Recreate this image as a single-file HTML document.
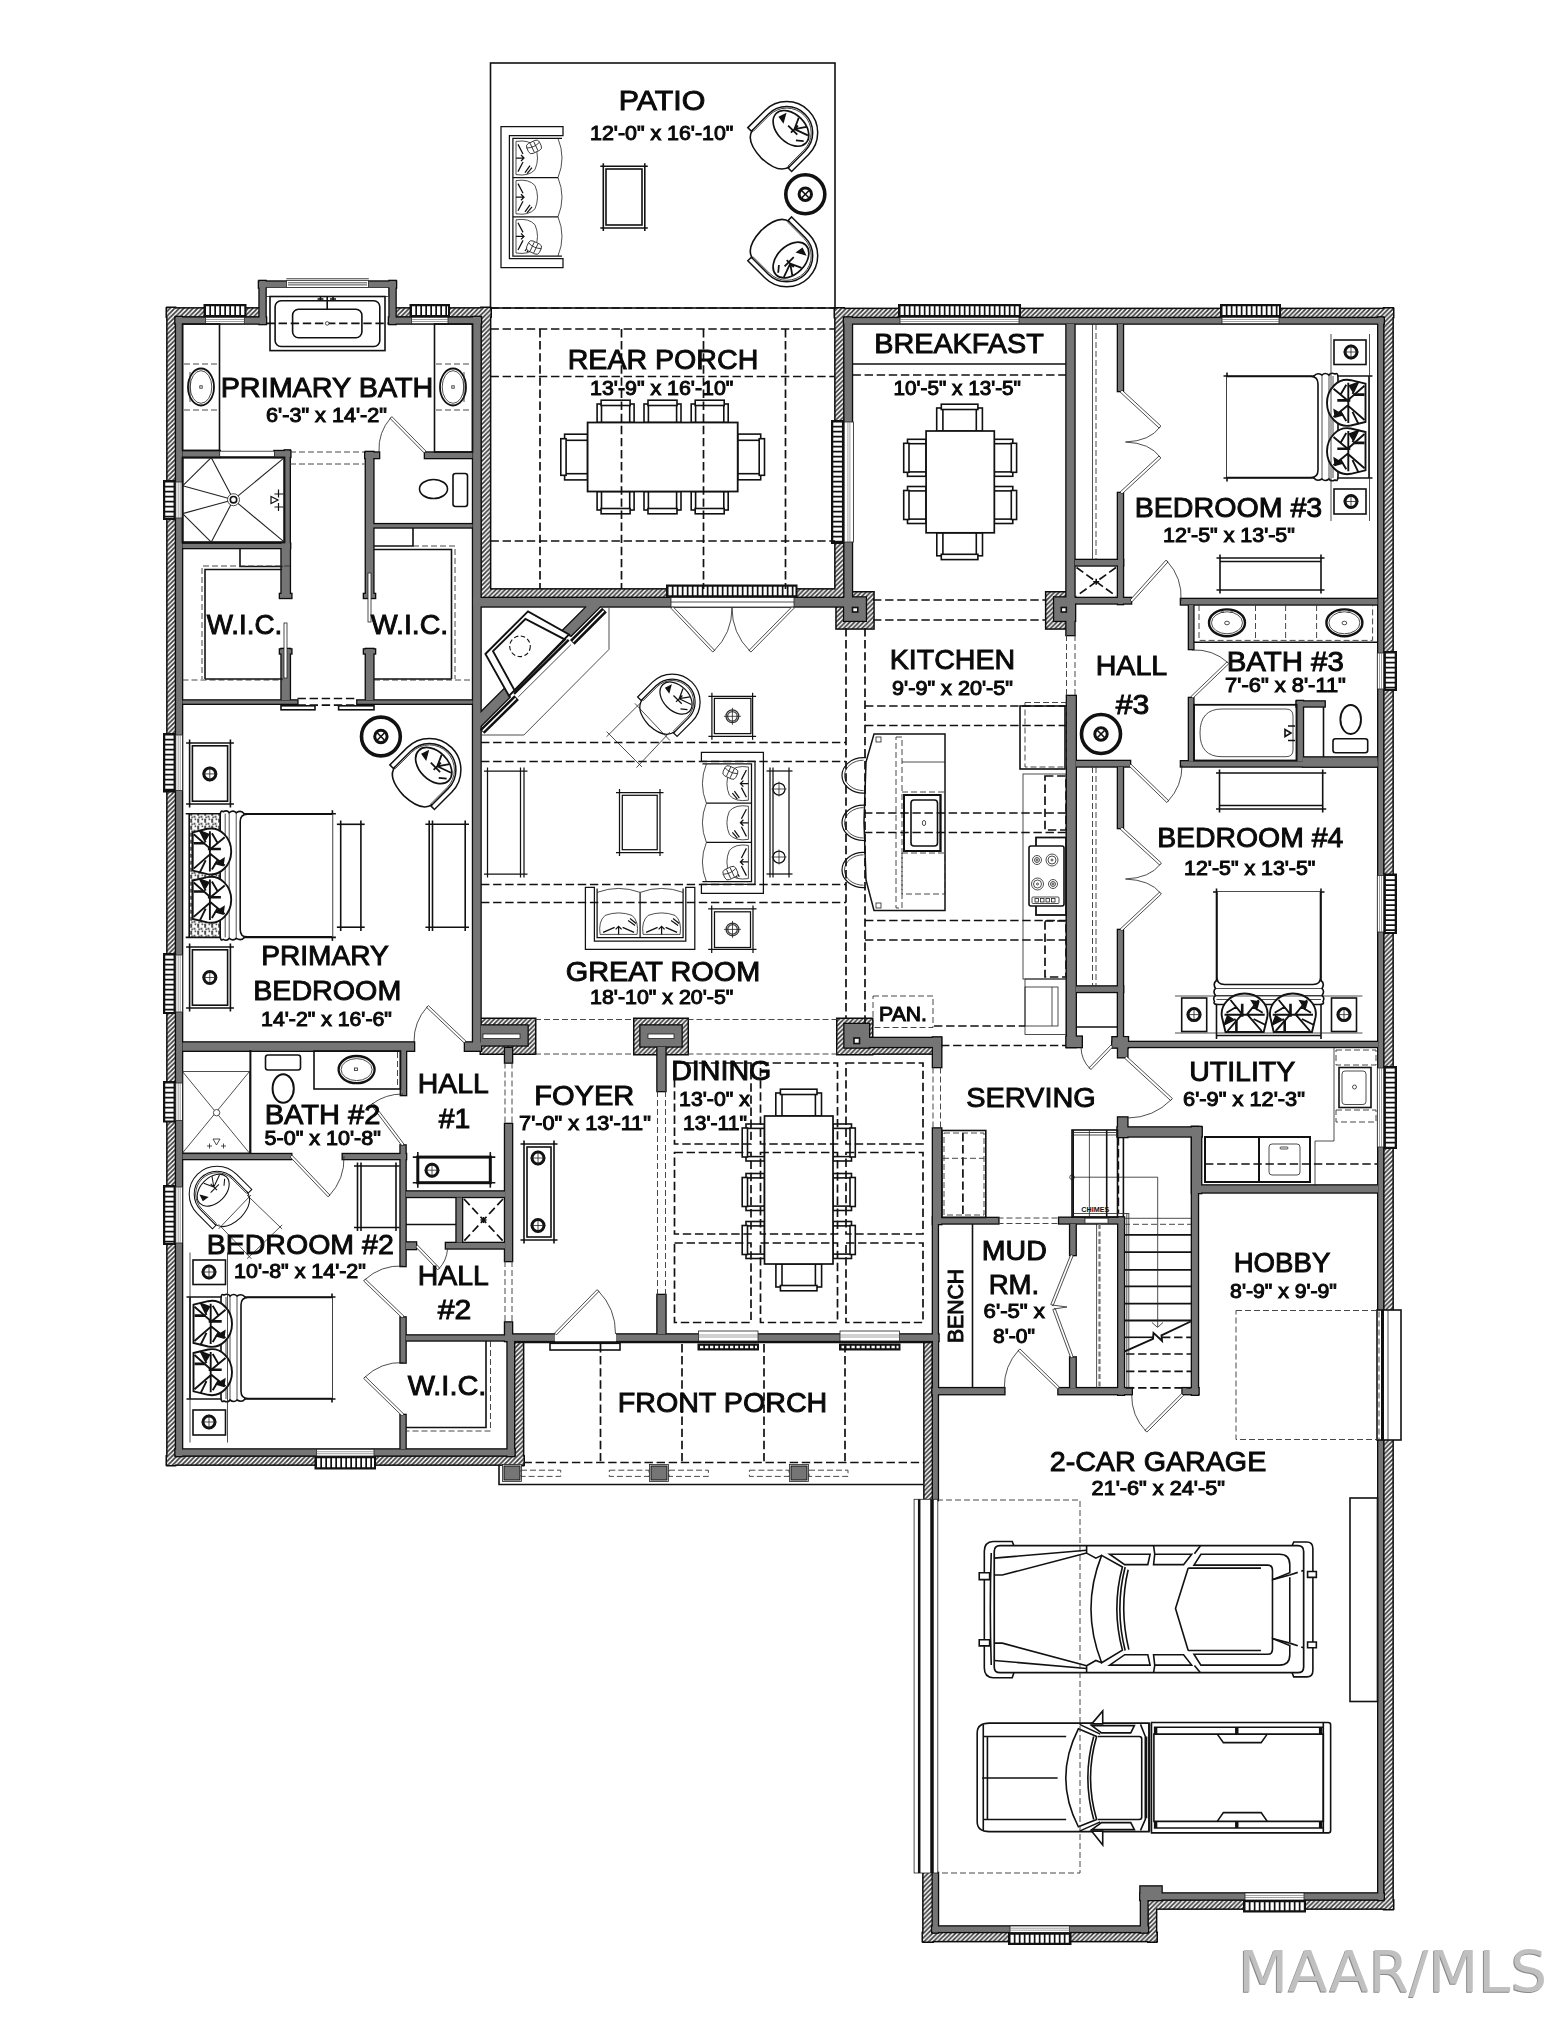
<!DOCTYPE html>
<html lang="en"><head><meta charset="utf-8"><title>Floor Plan</title>
<style>
html,body{margin:0;padding:0;background:#fff;}
body{width:1559px;height:2017px;overflow:hidden;}
svg{display:block;}
text{font-family:"Liberation Sans",sans-serif;fill:#111;}
.rm{font-size:28px;stroke:#0a0a0a;stroke-width:.95px;fill:#0a0a0a;}
.dm{font-size:20px;stroke:#0a0a0a;stroke-width:1px;fill:#0a0a0a;}
.k{stroke:#111;fill:none;stroke-width:1.6;}
.kw{stroke:#111;fill:#fff;stroke-width:1.6;}
.t{stroke:#222;fill:none;stroke-width:.8;}
.tw{stroke:#222;fill:#fff;stroke-width:.8;}
.b{stroke:#111;fill:none;stroke-width:2;}
.d{stroke:#111;fill:none;stroke-width:1.7;stroke-dasharray:8.4 3.7;}
.dt{stroke:#333;fill:none;stroke-width:.9;stroke-dasharray:6 3;}
.thin .k,.thin .kw{stroke-width:1.05 !important;}
.med .k,.med .kw{stroke-width:1.25 !important;}
.g{fill:#757575;}
.gs{fill:none;stroke:#0c0c0c;stroke-width:2.6;stroke-linejoin:miter;}
.h{fill:url(#hp);}
.hs{fill:none;stroke:#0c0c0c;stroke-width:3;}
</style></head><body>
<svg width="1559" height="2017" viewBox="0 0 1559 2017">
<defs>
<pattern id="hp" width="4.6" height="4.6" patternUnits="userSpaceOnUse">
<rect width="4.6" height="4.6" fill="#fff"/>
<path d="M-1,1 L1,-1 M-1,5.6 L5.6,-1 M3.6,5.6 L5.6,3.6" stroke="#3c3c3c" stroke-width="1.75"/>
</pattern>
</defs>
<rect width="1559" height="2017" fill="#fff"/>
<g id="walls">
<g class="hs"><rect x="167.6" y="308" width="7.3" height="1157"/><rect x="167" y="308.6" width="92" height="7.8"/><rect x="396" y="308.6" width="94.5" height="7.8"/><rect x="481.6" y="308" width="8.3" height="289.5"/><rect x="481" y="589.6" width="363" height="7.3"/><rect x="835.6" y="308.5" width="7.8" height="289"/><rect x="835" y="309.1" width="558" height="7.8"/><rect x="1384.3" y="308.5" width="8.1" height="1600.5"/><rect x="167" y="1456.6" width="356.5" height="7.8"/><rect x="515.1" y="1343" width="7.8" height="122"/><rect x="924.6" y="1343" width="7.3" height="157"/><rect x="923.6" y="1873" width="8.8" height="68.5"/><rect x="923" y="1933.1" width="233.5" height="7.8"/><rect x="1148.6" y="1900" width="7.3" height="41.5"/><rect x="1148" y="1900.6" width="245" height="7.8"/><rect x="481" y="1019" width="54" height="34.5"/><rect x="634.5" y="1019" width="53" height="35"/><rect x="837.5" y="1019" width="34.5" height="35"/><rect x="837.5" y="1047.6" width="95" height="5.8"/><rect x="836.7" y="592.5" width="36.6" height="35.8"/><rect x="1046.4" y="592.5" width="19.7" height="35.8"/></g>
<g class="h"><rect x="167.6" y="308" width="7.3" height="1157"/><rect x="167" y="308.6" width="92" height="7.8"/><rect x="396" y="308.6" width="94.5" height="7.8"/><rect x="481.6" y="308" width="8.3" height="289.5"/><rect x="481" y="589.6" width="363" height="7.3"/><rect x="835.6" y="308.5" width="7.8" height="289"/><rect x="835" y="309.1" width="558" height="7.8"/><rect x="1384.3" y="308.5" width="8.1" height="1600.5"/><rect x="167" y="1456.6" width="356.5" height="7.8"/><rect x="515.1" y="1343" width="7.8" height="122"/><rect x="924.6" y="1343" width="7.3" height="157"/><rect x="923.6" y="1873" width="8.8" height="68.5"/><rect x="923" y="1933.1" width="233.5" height="7.8"/><rect x="1148.6" y="1900" width="7.3" height="41.5"/><rect x="1148" y="1900.6" width="245" height="7.8"/><rect x="481" y="1019" width="54" height="34.5"/><rect x="634.5" y="1019" width="53" height="35"/><rect x="837.5" y="1019" width="34.5" height="35"/><rect x="837.5" y="1047.6" width="95" height="5.8"/><rect x="836.7" y="592.5" width="36.6" height="35.8"/><rect x="1046.4" y="592.5" width="19.7" height="35.8"/></g>
<g class="gs"><rect x="176.1" y="317" width="5.9" height="1139"/><rect x="175.5" y="317.6" width="90.5" height="5.9"/><rect x="259.6" y="281" width="5.9" height="43"/><rect x="259" y="281.6" width="137" height="5.9"/><rect x="389.6" y="281" width="5.9" height="43"/><rect x="389" y="317.6" width="92" height="5.9"/><rect x="473.1" y="317" width="7.4" height="733"/><rect x="473.3" y="598" width="379.2" height="8.4"/><rect x="844.5" y="317.5" width="7.4" height="289.5"/><rect x="844" y="318.1" width="539.7" height="5.4"/><rect x="1378.3" y="317.5" width="4.8" height="1582.5"/><rect x="175.5" y="1449.5" width="339" height="5.9"/><rect x="507.6" y="1341" width="6.4" height="115"/><rect x="507" y="1334.5" width="431.4" height="6.4"/><rect x="933" y="1341" width="4.8" height="159"/><rect x="932.8" y="1873" width="5.1" height="59.5"/><rect x="932.2" y="1926.5" width="215.8" height="5.4"/><rect x="1141" y="1893" width="6.4" height="39.5"/><rect x="1140.5" y="1893.5" width="243.2" height="5.9"/><rect x="1140.5" y="1886.5" width="21" height="13.5"/><rect x="182.5" y="451.1" width="37.2" height="5.7"/><rect x="284.9" y="450.5" width="4.8" height="98.5"/><rect x="274.5" y="451.1" width="15.8" height="5.7"/><rect x="281.6" y="543.2" width="8.2" height="53.8"/><rect x="280" y="594" width="11.3" height="3.9"/><rect x="281.6" y="649" width="8.2" height="51"/><rect x="280" y="649.5" width="11.3" height="3.9"/><rect x="182.5" y="543.8" width="107.5" height="4.2"/><rect x="365.9" y="452" width="7.4" height="145"/><rect x="364" y="594" width="11" height="3.9"/><rect x="365.9" y="649" width="7.4" height="51"/><rect x="364" y="649.5" width="11" height="3.9"/><rect x="365.3" y="452.6" width="13.7" height="5.4"/><rect x="425" y="452.6" width="47.5" height="5.4"/><rect x="371" y="524.2" width="101.5" height="3.2"/><rect x="182.5" y="700.5" width="114.8" height="3.2"/><rect x="357.4" y="700.5" width="115.1" height="3.2"/><rect x="182.5" y="1042.5" width="231.5" height="8.2"/><rect x="465" y="1042.5" width="16" height="8.2"/><rect x="400.9" y="1050" width="5.1" height="45"/><rect x="400.6" y="1145.5" width="4.9" height="120.5"/><rect x="400.6" y="1317.5" width="4.9" height="45"/><rect x="400.6" y="1415" width="4.9" height="34"/><rect x="182.5" y="1154.1" width="108.7" height="4.9"/><rect x="342.8" y="1154.1" width="63.2" height="4.9"/><rect x="406" y="1191.5" width="99" height="5.4"/><rect x="456.6" y="1197.5" width="5.4" height="45"/><rect x="406" y="1242.5" width="10" height="6.5"/><rect x="446" y="1243" width="59" height="5.4"/><rect x="505.1" y="1048" width="6.9" height="14.5"/><rect x="505.1" y="1124" width="6.9" height="137"/><rect x="505.1" y="1322.5" width="6.9" height="18.5"/><rect x="406" y="1335.5" width="106" height="4.9"/><rect x="481" y="1025.5" width="46.5" height="19.9"/><rect x="640.5" y="1025.5" width="41" height="20.9"/><rect x="657.5" y="1047" width="7.9" height="44"/><rect x="657.5" y="1295" width="7.9" height="39"/><rect x="844.5" y="1024" width="24.5" height="23.5"/><rect x="862" y="1038" width="79" height="8.9"/><rect x="933" y="1037.5" width="8.2" height="29.5"/><rect x="933" y="1128.5" width="8.2" height="95.5"/><rect x="933" y="1217.5" width="4.8" height="177.2"/><rect x="844.2" y="597.5" width="21.6" height="23.3"/><rect x="1054.2" y="597.5" width="20.8" height="23.3"/><rect x="1066.5" y="324" width="7.9" height="311"/><rect x="1067" y="696" width="8.7" height="351"/><rect x="1066.5" y="1036.7" width="15.2" height="10.3"/><rect x="1118" y="324" width="4.9" height="67"/><rect x="1118" y="493" width="4.9" height="111"/><rect x="1075" y="560" width="48" height="5.4"/><rect x="1075" y="598" width="56" height="5.4"/><rect x="1181" y="599" width="196.5" height="5.4"/><rect x="1189" y="605" width="4.3" height="44"/><rect x="1189" y="698" width="4.3" height="63"/><rect x="1181" y="761.3" width="196.5" height="5.1"/><rect x="1303" y="757.5" width="74.5" height="8.9"/><rect x="1076" y="761" width="54" height="5.4"/><rect x="1297.1" y="701" width="5.8" height="60"/><rect x="1296.6" y="701.5" width="28" height="4.9"/><rect x="1118" y="767" width="4.9" height="61"/><rect x="1118" y="930" width="4.9" height="117"/><rect x="1076" y="986.5" width="47" height="5.4"/><rect x="1112.5" y="1042" width="265.5" height="4.9"/><rect x="1112.5" y="1037.3" width="15.4" height="10.2"/><rect x="1118.1" y="1037.3" width="9.2" height="19.9"/><rect x="938" y="1218" width="60.3" height="5.4"/><rect x="1059.2" y="1217.8" width="62.8" height="5.6"/><rect x="932.5" y="1388.2" width="71.8" height="5.9"/><rect x="1058.5" y="1388.2" width="73.2" height="5.9"/><rect x="1182.6" y="1388.2" width="15.9" height="5.9"/><rect x="1070.2" y="1224" width="5.4" height="31"/><rect x="1070.2" y="1357.5" width="5.4" height="30.5"/><rect x="1118.1" y="1117.5" width="9.2" height="19.5"/><rect x="1118.3" y="1217.5" width="5.6" height="177.2"/><rect x="1117.6" y="1127.5" width="84" height="8.9"/><rect x="1192" y="1127" width="9.1" height="66"/><rect x="1192" y="1127" width="5.9" height="267.7"/><rect x="1196" y="1185.5" width="182" height="6.9"/></g>
<polygon points="479,714.5 504.9,688.6 509.5,697 479,727.5" class="gs"/><polygon points="562.6,630.9 586.2,607.3 588,603 602,603 599.2,607.3 570.9,635.6" class="gs"/>
<g class="g"><rect x="176.1" y="317" width="5.9" height="1139"/><rect x="175.5" y="317.6" width="90.5" height="5.9"/><rect x="259.6" y="281" width="5.9" height="43"/><rect x="259" y="281.6" width="137" height="5.9"/><rect x="389.6" y="281" width="5.9" height="43"/><rect x="389" y="317.6" width="92" height="5.9"/><rect x="473.1" y="317" width="7.4" height="733"/><rect x="473.3" y="598" width="379.2" height="8.4"/><rect x="844.5" y="317.5" width="7.4" height="289.5"/><rect x="844" y="318.1" width="539.7" height="5.4"/><rect x="1378.3" y="317.5" width="4.8" height="1582.5"/><rect x="175.5" y="1449.5" width="339" height="5.9"/><rect x="507.6" y="1341" width="6.4" height="115"/><rect x="507" y="1334.5" width="431.4" height="6.4"/><rect x="933" y="1341" width="4.8" height="159"/><rect x="932.8" y="1873" width="5.1" height="59.5"/><rect x="932.2" y="1926.5" width="215.8" height="5.4"/><rect x="1141" y="1893" width="6.4" height="39.5"/><rect x="1140.5" y="1893.5" width="243.2" height="5.9"/><rect x="1140.5" y="1886.5" width="21" height="13.5"/><rect x="182.5" y="451.1" width="37.2" height="5.7"/><rect x="284.9" y="450.5" width="4.8" height="98.5"/><rect x="274.5" y="451.1" width="15.8" height="5.7"/><rect x="281.6" y="543.2" width="8.2" height="53.8"/><rect x="280" y="594" width="11.3" height="3.9"/><rect x="281.6" y="649" width="8.2" height="51"/><rect x="280" y="649.5" width="11.3" height="3.9"/><rect x="182.5" y="543.8" width="107.5" height="4.2"/><rect x="365.9" y="452" width="7.4" height="145"/><rect x="364" y="594" width="11" height="3.9"/><rect x="365.9" y="649" width="7.4" height="51"/><rect x="364" y="649.5" width="11" height="3.9"/><rect x="365.3" y="452.6" width="13.7" height="5.4"/><rect x="425" y="452.6" width="47.5" height="5.4"/><rect x="371" y="524.2" width="101.5" height="3.2"/><rect x="182.5" y="700.5" width="114.8" height="3.2"/><rect x="357.4" y="700.5" width="115.1" height="3.2"/><rect x="182.5" y="1042.5" width="231.5" height="8.2"/><rect x="465" y="1042.5" width="16" height="8.2"/><rect x="400.9" y="1050" width="5.1" height="45"/><rect x="400.6" y="1145.5" width="4.9" height="120.5"/><rect x="400.6" y="1317.5" width="4.9" height="45"/><rect x="400.6" y="1415" width="4.9" height="34"/><rect x="182.5" y="1154.1" width="108.7" height="4.9"/><rect x="342.8" y="1154.1" width="63.2" height="4.9"/><rect x="406" y="1191.5" width="99" height="5.4"/><rect x="456.6" y="1197.5" width="5.4" height="45"/><rect x="406" y="1242.5" width="10" height="6.5"/><rect x="446" y="1243" width="59" height="5.4"/><rect x="505.1" y="1048" width="6.9" height="14.5"/><rect x="505.1" y="1124" width="6.9" height="137"/><rect x="505.1" y="1322.5" width="6.9" height="18.5"/><rect x="406" y="1335.5" width="106" height="4.9"/><rect x="481" y="1025.5" width="46.5" height="19.9"/><rect x="640.5" y="1025.5" width="41" height="20.9"/><rect x="657.5" y="1047" width="7.9" height="44"/><rect x="657.5" y="1295" width="7.9" height="39"/><rect x="844.5" y="1024" width="24.5" height="23.5"/><rect x="862" y="1038" width="79" height="8.9"/><rect x="933" y="1037.5" width="8.2" height="29.5"/><rect x="933" y="1128.5" width="8.2" height="95.5"/><rect x="933" y="1217.5" width="4.8" height="177.2"/><rect x="844.2" y="597.5" width="21.6" height="23.3"/><rect x="1054.2" y="597.5" width="20.8" height="23.3"/><rect x="1066.5" y="324" width="7.9" height="311"/><rect x="1067" y="696" width="8.7" height="351"/><rect x="1066.5" y="1036.7" width="15.2" height="10.3"/><rect x="1118" y="324" width="4.9" height="67"/><rect x="1118" y="493" width="4.9" height="111"/><rect x="1075" y="560" width="48" height="5.4"/><rect x="1075" y="598" width="56" height="5.4"/><rect x="1181" y="599" width="196.5" height="5.4"/><rect x="1189" y="605" width="4.3" height="44"/><rect x="1189" y="698" width="4.3" height="63"/><rect x="1181" y="761.3" width="196.5" height="5.1"/><rect x="1303" y="757.5" width="74.5" height="8.9"/><rect x="1076" y="761" width="54" height="5.4"/><rect x="1297.1" y="701" width="5.8" height="60"/><rect x="1296.6" y="701.5" width="28" height="4.9"/><rect x="1118" y="767" width="4.9" height="61"/><rect x="1118" y="930" width="4.9" height="117"/><rect x="1076" y="986.5" width="47" height="5.4"/><rect x="1112.5" y="1042" width="265.5" height="4.9"/><rect x="1112.5" y="1037.3" width="15.4" height="10.2"/><rect x="1118.1" y="1037.3" width="9.2" height="19.9"/><rect x="938" y="1218" width="60.3" height="5.4"/><rect x="1059.2" y="1217.8" width="62.8" height="5.6"/><rect x="932.5" y="1388.2" width="71.8" height="5.9"/><rect x="1058.5" y="1388.2" width="73.2" height="5.9"/><rect x="1182.6" y="1388.2" width="15.9" height="5.9"/><rect x="1070.2" y="1224" width="5.4" height="31"/><rect x="1070.2" y="1357.5" width="5.4" height="30.5"/><rect x="1118.1" y="1117.5" width="9.2" height="19.5"/><rect x="1118.3" y="1217.5" width="5.6" height="177.2"/><rect x="1117.6" y="1127.5" width="84" height="8.9"/><rect x="1192" y="1127" width="9.1" height="66"/><rect x="1192" y="1127" width="5.9" height="267.7"/><rect x="1196" y="1185.5" width="182" height="6.9"/><polygon points="479,714.5 504.9,688.6 509.5,697 479,727.5" class="None"/><polygon points="562.6,630.9 586.2,607.3 588,603 602,603 599.2,607.3 570.9,635.6" class="None"/></g>
<rect x="483" y="1034" width="37" height="4.5" class="tw"/>
<rect x="648" y="1034" width="26" height="4.5" class="tw"/>
<rect x="854" y="1038" width="5.5" height="5.5" class="kw"/>
<rect x="852.5" y="607.5" width="5.3" height="4.5" class="kw"/>
<rect x="1061.3" y="607.5" width="5" height="4.5" class="kw"/>
<line x1="514.5" y1="1342.3" x2="932.5" y2="1342.3" class="b"/>
</g>
<g id="windows">
<rect x="203.5" y="304" width="43" height="13.3" fill="#111"/><line x1="206" y1="310.6" x2="244.5" y2="310.6" stroke="#fff" stroke-width="8.8" stroke-dasharray="3.3 1.7"/>
<rect x="205.5" y="317.3" width="39" height="6.4" class="tw"/><line x1="205.5" y1="319.5" x2="244.5" y2="319.5" class="t" style="stroke-width:.55;stroke:#555"/><line x1="205.5" y1="321.5" x2="244.5" y2="321.5" class="t" style="stroke-width:.55;stroke:#555"/>
<rect x="409.5" y="304" width="40.5" height="13.3" fill="#111"/><line x1="412" y1="310.6" x2="448" y2="310.6" stroke="#fff" stroke-width="8.8" stroke-dasharray="3.3 1.7"/>
<rect x="411.5" y="317.3" width="36.5" height="6.4" class="tw"/><line x1="411.5" y1="319.5" x2="448" y2="319.5" class="t" style="stroke-width:.55;stroke:#555"/><line x1="411.5" y1="321.5" x2="448" y2="321.5" class="t" style="stroke-width:.55;stroke:#555"/>
<rect x="898" y="304" width="123" height="13.3" fill="#111"/><line x1="900.5" y1="310.6" x2="1019" y2="310.6" stroke="#fff" stroke-width="8.8" stroke-dasharray="3.3 1.7"/>
<rect x="900" y="317.3" width="119" height="6.4" class="tw"/><line x1="900" y1="319.5" x2="1019" y2="319.5" class="t" style="stroke-width:.55;stroke:#555"/><line x1="900" y1="321.5" x2="1019" y2="321.5" class="t" style="stroke-width:.55;stroke:#555"/>
<rect x="1220" y="304" width="61" height="13.3" fill="#111"/><line x1="1222.5" y1="310.6" x2="1279" y2="310.6" stroke="#fff" stroke-width="8.8" stroke-dasharray="3.3 1.7"/>
<rect x="1222" y="317.3" width="57" height="6.4" class="tw"/><line x1="1222" y1="319.5" x2="1279" y2="319.5" class="t" style="stroke-width:.55;stroke:#555"/><line x1="1222" y1="321.5" x2="1279" y2="321.5" class="t" style="stroke-width:.55;stroke:#555"/>
<rect x="286.4" y="280.3" width="82" height="7.3" class="tw"/>
<line x1="286.4" y1="278.7" x2="368.8" y2="278.7" class="t"/>
<line x1="288" y1="282.8" x2="367" y2="282.8" class="t"/>
<line x1="288" y1="284.9" x2="367" y2="284.9" class="t"/>
<rect x="163" y="480" width="12.8" height="40" fill="#111"/><line x1="169.4" y1="482.5" x2="169.4" y2="518" stroke="#fff" stroke-width="8.3" stroke-dasharray="3.3 1.7"/>
<rect x="175.8" y="482" width="6.7" height="36" class="tw"/><line x1="178.2" y1="482" x2="178.2" y2="518" class="t" style="stroke-width:.55;stroke:#555"/><line x1="180.2" y1="482" x2="180.2" y2="518" class="t" style="stroke-width:.55;stroke:#555"/>
<rect x="163" y="733" width="12.8" height="59.5" fill="#111"/><line x1="169.4" y1="735.5" x2="169.4" y2="790.5" stroke="#fff" stroke-width="8.3" stroke-dasharray="3.3 1.7"/>
<rect x="175.8" y="735" width="6.7" height="55.5" class="tw"/><line x1="178.2" y1="735" x2="178.2" y2="790.5" class="t" style="stroke-width:.55;stroke:#555"/><line x1="180.2" y1="735" x2="180.2" y2="790.5" class="t" style="stroke-width:.55;stroke:#555"/>
<rect x="163" y="953" width="12.8" height="61" fill="#111"/><line x1="169.4" y1="955.5" x2="169.4" y2="1012" stroke="#fff" stroke-width="8.3" stroke-dasharray="3.3 1.7"/>
<rect x="175.8" y="955" width="6.7" height="57" class="tw"/><line x1="178.2" y1="955" x2="178.2" y2="1012" class="t" style="stroke-width:.55;stroke:#555"/><line x1="180.2" y1="955" x2="180.2" y2="1012" class="t" style="stroke-width:.55;stroke:#555"/>
<rect x="163" y="1081" width="12.8" height="41.5" fill="#111"/><line x1="169.4" y1="1083.5" x2="169.4" y2="1120.5" stroke="#fff" stroke-width="8.3" stroke-dasharray="3.3 1.7"/>
<rect x="175.8" y="1083" width="6.7" height="37.5" class="tw"/><line x1="178.2" y1="1083" x2="178.2" y2="1120.5" class="t" style="stroke-width:.55;stroke:#555"/><line x1="180.2" y1="1083" x2="180.2" y2="1120.5" class="t" style="stroke-width:.55;stroke:#555"/>
<rect x="163" y="1185" width="12.8" height="60" fill="#111"/><line x1="169.4" y1="1187.5" x2="169.4" y2="1243" stroke="#fff" stroke-width="8.3" stroke-dasharray="3.3 1.7"/>
<rect x="175.8" y="1187" width="6.7" height="56" class="tw"/><line x1="178.2" y1="1187" x2="178.2" y2="1243" class="t" style="stroke-width:.55;stroke:#555"/><line x1="180.2" y1="1187" x2="180.2" y2="1243" class="t" style="stroke-width:.55;stroke:#555"/>
<rect x="314.5" y="1456" width="61.5" height="13.5" fill="#111"/><line x1="317" y1="1462.8" x2="374" y2="1462.8" stroke="#fff" stroke-width="9" stroke-dasharray="3.3 1.7"/>
<rect x="316.5" y="1449.3" width="57.5" height="6.7" class="tw"/><line x1="316.5" y1="1451.7" x2="374" y2="1451.7" class="t" style="stroke-width:.55;stroke:#555"/><line x1="316.5" y1="1453.7" x2="374" y2="1453.7" class="t" style="stroke-width:.55;stroke:#555"/>
<rect x="1383.7" y="651" width="13.3" height="40" fill="#111"/><line x1="1390.3" y1="653.5" x2="1390.3" y2="689" stroke="#fff" stroke-width="8.8" stroke-dasharray="3.3 1.7"/>
<rect x="1377.3" y="653" width="6.4" height="36" class="tw"/><line x1="1379.5" y1="653" x2="1379.5" y2="689" class="t" style="stroke-width:.55;stroke:#555"/><line x1="1381.5" y1="653" x2="1381.5" y2="689" class="t" style="stroke-width:.55;stroke:#555"/>
<rect x="1383.7" y="873.5" width="13.3" height="60.5" fill="#111"/><line x1="1390.3" y1="876" x2="1390.3" y2="932" stroke="#fff" stroke-width="8.8" stroke-dasharray="3.3 1.7"/>
<rect x="1377.3" y="875.5" width="6.4" height="56.5" class="tw"/><line x1="1379.5" y1="875.5" x2="1379.5" y2="932" class="t" style="stroke-width:.55;stroke:#555"/><line x1="1381.5" y1="875.5" x2="1381.5" y2="932" class="t" style="stroke-width:.55;stroke:#555"/>
<rect x="1383.7" y="1066" width="13.3" height="83" fill="#111"/><line x1="1390.3" y1="1068.5" x2="1390.3" y2="1147" stroke="#fff" stroke-width="8.8" stroke-dasharray="3.3 1.7"/>
<rect x="1377.3" y="1068" width="6.4" height="79" class="tw"/><line x1="1379.5" y1="1068" x2="1379.5" y2="1147" class="t" style="stroke-width:.55;stroke:#555"/><line x1="1381.5" y1="1068" x2="1381.5" y2="1147" class="t" style="stroke-width:.55;stroke:#555"/>
<rect x="831" y="420" width="13.2" height="124" fill="#111"/><line x1="837.6" y1="422.5" x2="837.6" y2="542" stroke="#fff" stroke-width="8.7" stroke-dasharray="3.3 1.7"/>
<rect x="844.2" y="422" width="9.3" height="120" class="tw"/><line x1="847.9" y1="422" x2="847.9" y2="542" class="t" style="stroke-width:.55;stroke:#555"/><line x1="849.9" y1="422" x2="849.9" y2="542" class="t" style="stroke-width:.55;stroke:#555"/>
<rect x="666" y="584.5" width="131.5" height="13" fill="#111"/><line x1="668.5" y1="591" x2="795.5" y2="591" stroke="#fff" stroke-width="8.5" stroke-dasharray="3.3 1.7"/>
<rect x="671" y="597.5" width="123" height="9.5" class="tw"/>
<line x1="671" y1="602" x2="794" y2="602" class="t"/>
<rect x="698.5" y="1331" width="59.5" height="10" class="tw"/><line x1="698.5" y1="1335" x2="758" y2="1335" class="t" style="stroke-width:.55;stroke:#555"/><line x1="698.5" y1="1337" x2="758" y2="1337" class="t" style="stroke-width:.55;stroke:#555"/>
<rect x="697.5" y="1343.5" width="61.5" height="7" fill="#111"/><line x1="700" y1="1347" x2="757" y2="1347" stroke="#fff" stroke-width="2.5" stroke-dasharray="3.3 1.7"/>
<rect x="840" y="1331" width="59.5" height="10" class="tw"/><line x1="840" y1="1335" x2="899.5" y2="1335" class="t" style="stroke-width:.55;stroke:#555"/><line x1="840" y1="1337" x2="899.5" y2="1337" class="t" style="stroke-width:.55;stroke:#555"/>
<rect x="839" y="1343.5" width="61.5" height="7" fill="#111"/><line x1="841.5" y1="1347" x2="898.5" y2="1347" stroke="#fff" stroke-width="2.5" stroke-dasharray="3.3 1.7"/>
<rect x="555" y="1333" width="61" height="9" fill="#fff"/>
<rect x="550" y="1343.3" width="70" height="6.7" class="kw"/>
<line x1="550" y1="1342.3" x2="620" y2="1342.3" class="b"/>
<rect x="1010" y="1926" width="59.5" height="6.5" class="tw"/><line x1="1010" y1="1928.2" x2="1069.5" y2="1928.2" class="t" style="stroke-width:.55;stroke:#555"/><line x1="1010" y1="1930.2" x2="1069.5" y2="1930.2" class="t" style="stroke-width:.55;stroke:#555"/>
<rect x="1008" y="1932.5" width="63.5" height="12.5" fill="#111"/><line x1="1010.5" y1="1938.8" x2="1069.5" y2="1938.8" stroke="#fff" stroke-width="8" stroke-dasharray="3.3 1.7"/>
<rect x="1245" y="1893" width="59" height="7" class="tw"/><line x1="1245" y1="1895.5" x2="1304" y2="1895.5" class="t" style="stroke-width:.55;stroke:#555"/><line x1="1245" y1="1897.5" x2="1304" y2="1897.5" class="t" style="stroke-width:.55;stroke:#555"/>
<rect x="1243" y="1900" width="63" height="12.5" fill="#111"/><line x1="1245.5" y1="1906.2" x2="1304" y2="1906.2" stroke="#fff" stroke-width="8" stroke-dasharray="3.3 1.7"/>
<rect x="1377" y="1310" width="24" height="130" class="kw"/>
<line x1="1382.5" y1="1310" x2="1382.5" y2="1440" class="k" style="stroke-width:3"/>
<line x1="1388" y1="1310" x2="1388" y2="1440" class="t"/>
<rect x="914.1" y="1499.3" width="23.7" height="373.7" class="tw"/>
<line x1="919.2" y1="1499.3" x2="919.2" y2="1873" class="k" style="stroke-width:2.5"/>
<line x1="932" y1="1499.3" x2="932" y2="1873" class="k" style="stroke-width:3.5"/>
</g>
<g id="doors">
<polygon points="425.9,451.1 391.9,416.6 390.1,418.4 424.1,452.9" class="tw"/><path d="M391,417.5 A48.4,48.4 0 0 0 379,452" class="t"/>
<polygon points="465.9,1041.1 428.4,1005.6 426.6,1007.4 464.1,1042.9" class="tw"/><path d="M427.5,1006.5 A51.6,51.6 0 0 0 414,1042" class="t"/>
<polygon points="404,1144.2 373,1103.2 371,1104.8 402,1145.8" class="tw"/><path d="M372,1104 A51.4,51.4 0 0 1 403,1094" class="t"/>
<polygon points="290.1,1156.9 328.1,1196.9 329.9,1195.1 291.9,1155.1" class="tw"/><path d="M329,1196 A55.2,55.2 0 0 0 344,1156" class="t"/>
<polygon points="403.9,1316.1 365.4,1279.1 363.6,1280.9 402.1,1317.9" class="tw"/><path d="M364.5,1280 A53.4,53.4 0 0 1 403,1266" class="t"/>
<polygon points="403.9,1414.1 365.4,1376.6 363.6,1378.4 402.1,1415.9" class="tw"/><path d="M364.5,1377.5 A53.7,53.7 0 0 1 403,1362.5" class="t"/>
<polygon points="415.7,1246.9 437.8,1269.9 439.6,1268.1 417.5,1245.1" class="tw"/><path d="M438.7,1269 A31.9,31.9 0 0 0 447.5,1249.3" class="t"/>
<polygon points="556.4,1334.9 598.9,1291.4 597.1,1289.6 554.6,1333.1" class="tw"/><path d="M598,1290.5 A60.8,60.8 0 0 1 615.5,1334" class="t"/>
<polygon points="671.1,608.4 712.8,652.1 714.6,650.3 672.9,606.6" class="tw"/><path d="M713.7,651.2 A60.4,60.4 0 0 0 732,607.5" class="t"/>
<polygon points="792.1,606.6 749.1,650.3 750.9,652.1 793.9,608.4" class="tw"/><path d="M750,651.2 A61.3,61.3 0 0 1 732,607.5" class="t"/>
<polygon points="1132,601.9 1168,561.9 1166,560.1 1130,600.1" class="tw"/><path d="M1167,561 A53.8,53.8 0 0 1 1181,601" class="t"/>
<polygon points="1192.9,698.2 1228.9,663.6 1227.1,661.8 1191.1,696.4" class="tw"/><path d="M1228,662.7 A49.9,49.9 0 0 0 1192,650" class="t"/>
<polygon points="1129.1,765.9 1166.8,802.5 1168.6,800.7 1130.9,764.1" class="tw"/><path d="M1167.7,801.6 A52.5,52.5 0 0 0 1182,765" class="t"/>
<polygon points="1059.4,1387.1 1019.9,1348.9 1018.1,1350.7 1057.6,1388.9" class="tw"/><path d="M1019,1349.8 A54.9,54.9 0 0 0 1004.3,1388" class="t"/>
<polygon points="1181.7,1393.6 1145.1,1430.3 1146.9,1432.1 1183.5,1395.4" class="tw"/><path d="M1146,1431.2 A51.8,51.8 0 0 1 1131.7,1394.5" class="t"/>
<polygon points="1110.9,1045.1 1089.1,1067.8 1090.9,1069.6 1112.7,1046.9" class="tw"/><path d="M1090,1068.7 A31.5,31.5 0 0 1 1081,1047" class="t"/>
<polygon points="1124.6,1058.2 1170.6,1100.5 1172.4,1098.5 1126.4,1056.2" class="tw"/><path d="M1171.5,1099.5 A62.5,62.5 0 0 1 1128,1118" class="t"/>
<polygon points="1120.1,392 1159.1,428 1160.9,426 1121.9,390" class="tw"/>
<polygon points="1121.9,494 1160.9,458 1159.1,456 1120.1,492" class="tw"/>
<path d="M1160,427 Q1150,441 1125.5,442 Q1150,443 1160,457" class="t"/>
<polygon points="1120.1,829 1159.6,865 1161.4,863 1121.9,827" class="tw"/>
<polygon points="1121.9,930.9 1161.4,893.9 1159.6,892.1 1120.1,929.1" class="tw"/>
<path d="M1160.5,864 Q1150,878 1125.5,879 Q1150,880 1160.5,893" class="t"/>
<polygon points="1070.8,1254.5 1050.8,1304.5 1053.2,1305.5 1073.2,1255.5" class="tw"/>
<polygon points="1073.2,1357 1055.2,1308.5 1052.8,1309.5 1070.8,1358" class="tw"/>
<path d="M1052,1305 L1067,1307 L1054,1309" class="t"/>
</g>
<g id="fixtures">
<rect x="182.5" y="324" width="37" height="126.5" class="k"/>
<rect x="434.5" y="324" width="38" height="128" class="k"/>
<line x1="184" y1="364" x2="218" y2="364" class="dt"/>
<line x1="184" y1="410" x2="218" y2="410" class="dt"/>
<line x1="436" y1="364" x2="471" y2="364" class="dt"/>
<line x1="436" y1="410" x2="471" y2="410" class="dt"/>
<ellipse cx="201" cy="387" rx="13" ry="18.5" class="k" style="stroke-width:1.8"/><ellipse cx="201" cy="387" rx="10.8" ry="16.3" class="t"/><rect x="199.8" y="385.8" width="2.4" height="2.4" class="t"/>
<ellipse cx="453" cy="387" rx="13" ry="18.5" class="k" style="stroke-width:1.8"/><ellipse cx="453" cy="387" rx="10.8" ry="16.3" class="t"/><rect x="451.8" y="385.8" width="2.4" height="2.4" class="t"/>
<line x1="190" y1="372" x2="190" y2="402" class="t"/>
<line x1="464" y1="372" x2="464" y2="402" class="t"/>
<rect x="266.5" y="287.4" width="122" height="9.1" class="tw"/>
<rect x="270" y="296.5" width="115" height="54.1" class="kw"/>
<rect x="275.1" y="300.8" width="104.7" height="45.7" rx="6" class="k"/>
<rect x="292.6" y="309.2" width="69.3" height="28.5" rx="6" class="k"/>
<line x1="266.5" y1="323.4" x2="389" y2="323.4" class="d" style="stroke-width:1.8"/>
<circle cx="327.2" cy="323.4" r="1.8" class="tw"/>
<path d="M317.5,299 h6 M320.5,297 v4 M330,299 h6 M333,297 v4" class="k"/>
<line x1="327.2" y1="296.5" x2="327.2" y2="309.2" class="k"/>
<rect x="182.6" y="457.6" width="101.8" height="84.6" class="k" style="stroke-width:2"/>
<rect x="219.7" y="451.2" width="54.8" height="5.4" class="tw"/>
<line x1="233.5" y1="499.7" x2="211.2" y2="457.6" class="t" style="stroke-width:1.1"/>
<line x1="233.5" y1="499.7" x2="284.4" y2="457.6" class="t" style="stroke-width:1.1"/>
<line x1="233.5" y1="499.7" x2="182.6" y2="485.8" class="t" style="stroke-width:1.1"/>
<line x1="233.5" y1="499.7" x2="182.6" y2="513.6" class="t" style="stroke-width:1.1"/>
<line x1="233.5" y1="499.7" x2="211.2" y2="542.2" class="t" style="stroke-width:1.1"/>
<line x1="233.5" y1="499.7" x2="284.4" y2="542.2" class="t" style="stroke-width:1.1"/>
<line x1="182.6" y1="485.8" x2="211.2" y2="457.6" class="t" style="stroke-width:1.1"/>
<line x1="182.6" y1="513.6" x2="211.2" y2="542.2" class="t" style="stroke-width:1.1"/>
<circle cx="233.5" cy="499.7" r="6" class="tw"/>
<circle cx="233.5" cy="499.7" r="3.2" class="k"/>
<path d="M274.5,494 h9 M278.5,489.5 v8 M274.5,507 h9 M278.5,503 v8 M271,496.5 l7,3.5 l-7,3.5 z" class="k" style="stroke-width:1.2"/>
<ellipse cx="433.5" cy="489" rx="14" ry="9.5" class="k" style="stroke-width:1.6"/>
<rect x="453" y="473.5" width="14.5" height="33" rx="2.5" class="k"/>
<polyline points="240,549 240,566.5 282.5,566.5" class="k"/>
<polyline points="290,566 202,566 202,679" class="dt"/>
<polyline points="282,569.5 205,569.5 205,679" class="k"/>
<line x1="182.5" y1="680" x2="282.5" y2="680" class="dt"/>
<line x1="205" y1="679" x2="282.5" y2="679" class="k"/>
<polyline points="413,528 413,546 374,546" class="k"/>
<polyline points="413,546 455,546 455,679" class="dt"/>
<polyline points="374,549.5 451.5,549.5 451.5,679" class="k"/>
<line x1="374" y1="680" x2="472.5" y2="680" class="dt"/>
<line x1="374" y1="679" x2="451.5" y2="679" class="k"/>
<rect x="368" y="573" width="3" height="49" class="tw"/>
<rect x="284" y="623" width="3" height="55" class="tw"/>
<line x1="290" y1="452" x2="364.5" y2="452" class="dt"/>
<line x1="290" y1="464" x2="364.5" y2="464" class="dt"/>
<rect x="281" y="705.8" width="34" height="4" class="kw"/>
<rect x="338.6" y="705.8" width="35.4" height="4" class="kw"/>
<line x1="297.5" y1="698.5" x2="357" y2="698.5" class="d"/>
<line x1="297.5" y1="705.2" x2="357" y2="705.2" class="d"/>
<line x1="250.4" y1="1050" x2="250.4" y2="1153.6" class="k" style="stroke-width:2"/>
<rect x="182.5" y="1071.6" width="66.9" height="81.4" class="t"/>
<line x1="182.5" y1="1071.6" x2="249.4" y2="1153" class="t"/>
<line x1="249.4" y1="1071.6" x2="182.5" y2="1153" class="t"/>
<circle cx="216.6" cy="1112.7" r="3.2" class="tw"/>
<path d="M207,1146 h5 M209.5,1143.5 v5 M221,1146 h5 M223.5,1143.5 v5 M213,1139 l3.5,6 l3.5,-6 z" class="t"/>
<rect x="265.5" y="1055" width="35" height="15" rx="2.5" class="k"/>
<ellipse cx="283.2" cy="1088.5" rx="10.6" ry="14.3" class="k" style="stroke-width:2"/>
<rect x="314" y="1051" width="86.5" height="38" class="k"/>
<line x1="397.5" y1="1052" x2="397.5" y2="1088" class="dt"/>
<ellipse cx="356.6" cy="1069.6" rx="18" ry="13.6" class="k" style="stroke-width:2.3"/>
<ellipse cx="356.6" cy="1069.6" rx="15.5" ry="11" class="t"/>
<rect x="354.5" y="1068" width="3" height="2.5" class="t"/>
<line x1="1194" y1="642.3" x2="1377" y2="642.3" class="k"/>
<polyline points="1199,605 1199,640.4 1372.6,640.4 1372.6,605" class="dt"/>
<line x1="1255.5" y1="605" x2="1255.5" y2="640.4" class="dt"/>
<line x1="1285.6" y1="605" x2="1285.6" y2="640.4" class="dt"/>
<line x1="1316.6" y1="605" x2="1316.6" y2="640.4" class="dt"/>
<ellipse cx="1227" cy="622.8" rx="18" ry="13.4" class="k" style="stroke-width:2.4"/>
<ellipse cx="1227" cy="622.8" rx="15.5" ry="11" class="t"/>
<ellipse cx="1227" cy="623" rx="2.4" ry="1.8" class="t"/>
<path d="M1221,612 h3 M1230,612 h3" class="t"/>
<ellipse cx="1344.4" cy="622.8" rx="18" ry="13.4" class="k" style="stroke-width:2.4"/>
<ellipse cx="1344.4" cy="622.8" rx="15.5" ry="11" class="t"/>
<ellipse cx="1344.4" cy="623" rx="2.4" ry="1.8" class="t"/>
<path d="M1338.4,612 h3 M1347.4,612 h3" class="t"/>
<rect x="1194" y="704.8" width="102.6" height="55.7" class="k" style="stroke-width:1.8"/>
<path d="M1222,709 H1286 Q1293,709 1293,716 V750 Q1293,756.7 1286,756.7 H1222 Q1200,756.7 1200,733 Q1200,709 1222,709 Z" class="t"/>
<path d="M1288,726 h7 M1288,740.5 h7 M1285,729.5 l6,3.5 l-6,3.5 z" class="k"/>
<line x1="1323.5" y1="707" x2="1323.5" y2="757" class="k"/>
<ellipse cx="1350.7" cy="719.5" rx="10.3" ry="14.5" class="k" style="stroke-width:1.9"/>
<rect x="1333" y="738.7" width="34.7" height="14" rx="2.5" class="k"/>
<line x1="1076.5" y1="567.5" x2="1116" y2="596" class="d"/>
<line x1="1116" y1="567.5" x2="1076.5" y2="596" class="d"/>
<path d="M1093.2,581.8 h6 M1096.2,578.8 v6" class="k"/>
<line x1="464" y1="1199" x2="503" y2="1241" class="d"/>
<line x1="503" y1="1199" x2="464" y2="1241" class="d"/>
<path d="M480.5,1220 h6 M483.5,1217 v6" class="k"/>
<line x1="1092.5" y1="324" x2="1092.5" y2="559.5" class="t"/>
<line x1="1096" y1="324" x2="1096" y2="559.5" class="dt"/>
<line x1="1092.5" y1="767" x2="1092.5" y2="986" class="dt"/>
<line x1="1096" y1="767" x2="1096" y2="986" class="dt"/>
<line x1="406" y1="1224.5" x2="456" y2="1224.5" class="k"/>
<line x1="1076" y1="1027" x2="1117.5" y2="1027" class="k"/>
<polyline points="486,1341 486,1427.5 406,1427.5" class="k"/>
<polyline points="490.5,1341 490.5,1431 406,1431" class="dt"/>
<polygon points="874,734 945,734 945,910.5 874,910.5 866,880 864,822 866,762" class="kw" style="stroke-width:1.5"/>
<rect x="896" y="737" width="6" height="171" class="dt"/>
<line x1="902" y1="762" x2="945" y2="762" class="t"/>
<line x1="902" y1="792" x2="945" y2="792" class="dt"/>
<rect x="902" y="853" width="43" height="41" class="dt"/>
<rect x="876" y="737" width="5" height="5" class="t"/>
<rect x="876" y="903" width="5" height="5" class="t"/>
<rect x="904" y="795" width="36.5" height="56" class="kw"/><rect x="904" y="795" width="36.5" height="56" class="k" style="stroke-width:2"/>
<rect x="911" y="800" width="26.5" height="46" rx="3" class="k"/>
<ellipse cx="924" cy="823" rx="1.7" ry="2.6" class="t"/>
<path d="M866,757.7 H863.5 A21.5,17.7 0 0 0 863.5,793.1 H866" class="k" style="stroke-width:1.2"/>
<path d="M863.5,760.2 A19,15.2 0 0 0 863.5,790.6" class="t"/>
<path d="M866,805.1 H863.5 A21.5,17.7 0 0 0 863.5,840.5 H866" class="k" style="stroke-width:1.2"/>
<path d="M863.5,807.6 A19,15.2 0 0 0 863.5,838" class="t"/>
<path d="M866,852.3 H863.5 A21.5,17.7 0 0 0 863.5,887.7 H866" class="k" style="stroke-width:1.2"/>
<path d="M863.5,854.8 A19,15.2 0 0 0 863.5,885.2" class="t"/>
<rect x="1023" y="774" width="43" height="205" class="t"/>
<rect x="1045" y="776" width="21" height="54" class="d"/>
<rect x="1045" y="921" width="21" height="56" class="d"/>
<rect x="1036" y="837.5" width="30" height="77.5" class="k" style="stroke-width:1.8"/>
<rect x="1029" y="846" width="35" height="60" rx="2" class="kw"/>
<circle cx="1037" cy="860" r="4.5" class="t"/>
<circle cx="1037" cy="860" r="2.5" class="t"/>
<circle cx="1037" cy="860" r="1" class="t"/>
<circle cx="1052" cy="860" r="6" class="t"/>
<circle cx="1052" cy="860" r="4" class="t"/>
<circle cx="1052" cy="860" r="1" class="t"/>
<circle cx="1037.5" cy="884" r="6" class="t"/>
<circle cx="1037.5" cy="884" r="4" class="t"/>
<circle cx="1037.5" cy="884" r="1" class="t"/>
<circle cx="1053" cy="884" r="4.5" class="t"/>
<circle cx="1053" cy="884" r="2.5" class="t"/>
<circle cx="1053" cy="884" r="1" class="t"/>
<rect x="1032" y="897" width="27" height="6.5" rx="1" class="t"/>
<rect x="1035" y="898.5" width="3.5" height="3.5" class="t"/>
<rect x="1040.5" y="898.5" width="3.5" height="3.5" class="t"/>
<rect x="1046" y="898.5" width="3.5" height="3.5" class="t"/>
<rect x="1051.5" y="898.5" width="3.5" height="3.5" class="t"/>
<rect x="1020" y="706" width="45" height="63" class="k"/>
<rect x="1025" y="702.5" width="41" height="64.5" class="dt"/>
<rect x="1025" y="979" width="41" height="55.5" class="t"/>
<rect x="1025" y="987" width="33" height="39" class="t"/>
<rect x="1025" y="1034.5" width="41" height="0" class="dt"/>
<line x1="1052" y1="987" x2="1052" y2="1026" class="t"/>
<rect x="942" y="1130.5" width="43.8" height="87" class="k"/>
<line x1="962.9" y1="1133" x2="962.9" y2="1215" class="d"/>
<line x1="943" y1="1158.3" x2="984" y2="1158.3" class="dt"/>
<rect x="944" y="1133" width="40" height="82" class="dt"/>
<polyline points="1334,1047.5 1334,1141 1315,1141 1315,1186" class="t"/>
<rect x="1336" y="1050" width="40" height="15" class="dt"/>
<rect x="1336" y="1110" width="40" height="12" class="dt"/>
<rect x="1339" y="1067.5" width="32" height="40" class="k"/>
<rect x="1342" y="1071" width="24" height="33.5" rx="3" class="t"/>
<circle cx="1354.5" cy="1087" r="2" class="t"/>
<rect x="1205" y="1137" width="105" height="45" class="k" style="stroke-width:2"/>
<line x1="1259" y1="1137" x2="1259" y2="1182" class="k" style="stroke-width:2"/>
<rect x="1269" y="1144" width="31" height="31" rx="3" class="t"/>
<rect x="1280" y="1147" width="8" height="2" rx="1" class="t"/>
<line x1="1205" y1="1164" x2="1378" y2="1164" class="d"/>
<rect x="1350" y="1498" width="27.5" height="203.5" class="k"/>
<line x1="972.5" y1="1224" x2="972.5" y2="1388" class="k"/>
<line x1="1096.6" y1="1224" x2="1096.6" y2="1388" class="t"/>
<line x1="1099.5" y1="1224" x2="1099.5" y2="1388" class="k" style="stroke:#777;stroke-width:2.2;stroke-dasharray:5 2.5"/>
<line x1="1124" y1="1218.3" x2="1191" y2="1218.3" class="t"/>
<line x1="1124" y1="1224.3" x2="1191" y2="1224.3" class="dt"/>
<line x1="1124" y1="1234.9" x2="1191" y2="1234.9" class="k" style="stroke-width:1.8"/>
<line x1="1124" y1="1252.1" x2="1191" y2="1252.1" class="k" style="stroke-width:1.8"/>
<line x1="1124" y1="1269.9" x2="1191" y2="1269.9" class="k" style="stroke-width:1.8"/>
<line x1="1124" y1="1286.3" x2="1191" y2="1286.3" class="k" style="stroke-width:1.8"/>
<line x1="1124" y1="1303.6" x2="1191" y2="1303.6" class="k" style="stroke-width:1.8"/>
<line x1="1124" y1="1320.5" x2="1191" y2="1320.5" class="k" style="stroke-width:1.8"/>
<line x1="1124" y1="1337.3" x2="1153" y2="1337.3" class="k"/>
<line x1="1162" y1="1337.3" x2="1191" y2="1337.3" class="d"/>
<line x1="1126" y1="1354" x2="1191" y2="1354" class="d" style="stroke-width:1.7"/>
<line x1="1126" y1="1371.3" x2="1191" y2="1371.3" class="d" style="stroke-width:1.7"/>
<line x1="1126" y1="1387.9" x2="1191" y2="1387.9" class="d" style="stroke-width:1.7"/>
<polyline points="1124.3,1351.7 1153,1338.8 1153.5,1332.9 1162,1340.8 1161.5,1335.3 1190.7,1321.5" class="k" style="stroke-width:1.9"/>
<polyline points="1072,1177.2 1157.7,1177.2 1157.7,1327" class="t"/>
<path d="M1152,1322.5 L1157.5,1327.4 L1163,1322.5" class="t"/>
<circle cx="1072" cy="1177.2" r="2.3" class="t"/>
<rect x="1072" y="1130" width="45.5" height="87" class="k"/>
<line x1="1073.2" y1="1130" x2="1073.2" y2="1217" class="k"/>
<line x1="1089.4" y1="1130" x2="1089.4" y2="1217" class="t"/>
<line x1="1106.7" y1="1130" x2="1106.7" y2="1217" class="k"/>
<line x1="1072" y1="1132.5" x2="1117.5" y2="1132.5" class="t"/>
<line x1="1072" y1="1135" x2="1117.5" y2="1135" class="t"/>
<line x1="1118.3" y1="1137" x2="1118.3" y2="1213" class="d" style="stroke-width:1.8"/>
<line x1="1123.4" y1="1137" x2="1123.4" y2="1217" class="k"/>
<line x1="1126.8" y1="1213" x2="1126.8" y2="1388" class="t"/>
<line x1="1128.8" y1="1213" x2="1128.8" y2="1388" class="t"/>
<polyline points="1072,1213.5 1128.8,1213.5" class="t"/>
<rect x="1085" y="1218.2" width="23" height="5" class="tw"/>
<text x="1081.3" y="1211.8" style="font-size:6.6px;font-weight:bold" textLength="28" lengthAdjust="spacingAndGlyphs">CHIMES</text>
<rect x="502.5" y="1464.5" width="19" height="17" class="tw"/><rect x="504" y="1466" width="16" height="14" fill="#757575" stroke="#111" stroke-width="1"/>
<rect x="649.5" y="1464.5" width="19" height="17" class="tw"/><rect x="651" y="1466" width="16" height="14" fill="#757575" stroke="#111" stroke-width="1"/>
<rect x="789.5" y="1464.5" width="19" height="17" class="tw"/><rect x="791" y="1466" width="16" height="14" fill="#757575" stroke="#111" stroke-width="1"/>
<polygon points="485.4,654 528,611.4 569,634.5 509,696" class="kw" style="stroke-width:1.9"/>
<polygon points="493,651.2 525.4,619 565,639.6 514.6,690.4" class="k" style="stroke-width:1.9"/>
<circle cx="520" cy="646.3" r="10.3" class="k" style="stroke-width:1.1;stroke-dasharray:4.5 2.5"/>
<line x1="514" y1="693.8" x2="568.7" y2="639.8" class="k" style="stroke-width:2.4"/>
<line x1="518.2" y1="697" x2="571" y2="644.6" class="t"/>
<line x1="482.2" y1="731.5" x2="516.6" y2="697.6" class="k" style="stroke-width:6.6"/>
<line x1="482.8" y1="730.9" x2="515.8" y2="698.4" class="k" style="stroke:#fff;stroke-width:1.5"/>
<line x1="572.3" y1="642.3" x2="604.5" y2="610.1" class="k" style="stroke-width:6.6"/>
<line x1="572.9" y1="641.7" x2="603.7" y2="610.9" class="k" style="stroke:#fff;stroke-width:1.5"/>
<polyline points="609,608 609,649.4 523.9,735 482,735" class="t"/>
</g>
<g id="furniture">
<defs><pattern id="st" width="7" height="7" patternUnits="userSpaceOnUse"><rect width="7" height="7" fill="#fff"/><path d="M1,1 h2 M4.5,3 h1.8 M2,5 v2 M5.5,5.5 h1.5 M3,2.8 v1.4" stroke="#111" stroke-width="1.5"/></pattern></defs>
<g class="med"><g transform="translate(501,126.7)"><path d="M0,0 H62 V9 H8.4 V132 H62 V141 H0 Z" class="kw"/><path d="M61,11.7 H11.9 V129.3 H61" class="k"/><path d="M57,11.7 Q65,31.3 57,50.9" class="t"/><path d="M15,14.7 Q28,12.7 34,19.7 Q39,31.3 34,42.9 Q28,49.9 15,47.9 Z" class="t"/><path d="M15,31.3 h8 M20,28.3 l3,3 l-3,3 M17,17.7 L22,27.3 M17,44.9 L22,35.3 M24,45.9 l5,-7 M26,46.9 l5,-6" class="k"/><path d="M57,50.9 Q65,70.5 57,90.1" class="t"/><line x1="11.9" y1="50.9" x2="57" y2="50.9" class="k" style="stroke-width:1.8"/><path d="M15,53.9 Q28,51.9 34,58.9 Q39,70.5 34,82.1 Q28,89.1 15,87.1 Z" class="t"/><path d="M15,70.5 h8 M20,67.5 l3,3 l-3,3 M17,56.9 L22,66.5 M17,84.1 L22,74.5 M24,85.1 l5,-7 M26,86.1 l5,-6" class="k"/><path d="M57,90.1 Q65,109.7 57,129.3" class="t"/><line x1="11.9" y1="90.1" x2="57" y2="90.1" class="k" style="stroke-width:1.8"/><path d="M15,93.1 Q28,91.1 34,98.1 Q39,109.7 34,121.3 Q28,128.3 15,126.3 Z" class="t"/><path d="M15,109.7 h8 M20,106.7 l3,3 l-3,3 M17,96.1 L22,105.7 M17,123.3 L22,113.7 M24,124.3 l5,-7 M26,125.3 l5,-6" class="k"/><g transform="translate(33,20.2) rotate(-25)"><rect x="-7" y="-5.5" width="14" height="11" rx="3.5" class="tw"/><path d="M-7,-2 Q0,1 7,-2 M-2,-5 v10 M2,-5 v10" class="t"/></g><g transform="translate(33,120.8) rotate(25)"><rect x="-7" y="-5.5" width="14" height="11" rx="3.5" class="tw"/><path d="M-7,-2 Q0,1 7,-2 M-2,-5 v10 M2,-5 v10" class="t"/></g></g></g>
<line x1="600.3" y1="166.3" x2="647.8" y2="166.3" class="k"/><line x1="600.3" y1="228" x2="647.8" y2="228" class="k"/><line x1="603.3" y1="163.3" x2="603.3" y2="231" class="k"/><line x1="644.8" y1="163.3" x2="644.8" y2="231" class="k"/>
<rect x="606" y="169" width="36" height="56" class="k"/>
<g transform="translate(786.7,132.6) rotate(45)"><path d="M-31,24 V0 A31,31 0 0 1 31,0 V24 H26 V0 A26,26 0 0 0 -26,0 V24 Z" class="kw" style="stroke-width:1.5"/><path d="M-24.5,23 V0 A24.5,24.5 0 0 1 24.5,0 V23" class="t"/><path d="M-26,22 Q-24,35 0,36 Q24,35 26,22" class="k"/><ellipse cx="0" cy="-6" rx="21" ry="14" class="kw" style="stroke-width:1.7"/><path d="M3,-8 L17,-13 M3,-8 L10,-18 M3,-8 L-2,-19 M-4,-6 h13 M3,-13 v10 M12,-1 l6,-5" class="k" style="stroke-width:1.8"/><path d="M-14,-12 l4,7 l-6,-1 z" class="k" style="fill:#111"/></g>
<g transform="translate(786.7,255.8) rotate(135)"><path d="M-31,24 V0 A31,31 0 0 1 31,0 V24 H26 V0 A26,26 0 0 0 -26,0 V24 Z" class="kw" style="stroke-width:1.5"/><path d="M-24.5,23 V0 A24.5,24.5 0 0 1 24.5,0 V23" class="t"/><path d="M-26,22 Q-24,35 0,36 Q24,35 26,22" class="k"/><ellipse cx="0" cy="-6" rx="21" ry="14" class="kw" style="stroke-width:1.7"/><path d="M3,-8 L17,-13 M3,-8 L10,-18 M3,-8 L-2,-19 M-4,-6 h13 M3,-13 v10 M12,-1 l6,-5" class="k" style="stroke-width:1.8"/><path d="M-14,-12 l4,7 l-6,-1 z" class="k" style="fill:#111"/></g>
<circle cx="805.3" cy="194.2" r="19.5" class="k" style="stroke-width:3.6"/><circle cx="805.3" cy="194.2" r="6.2" class="k" style="stroke-width:3"/><line x1="801.8" y1="190.7" x2="808.8" y2="197.7" class="k"/><line x1="801.8" y1="197.7" x2="808.8" y2="190.7" class="k"/>
<g transform="translate(615.6,422.5) rotate(0)"><rect x="-18.5" y="-18.5" width="37" height="18.5" class="kw"/><line x1="-14.1" y1="-18.5" x2="-14.1" y2="0" class="k"/><line x1="14.1" y1="-18.5" x2="14.1" y2="0" class="k"/><rect x="-14.5" y="-22.3" width="29" height="5.3" class="kw"/></g>
<g transform="translate(615.6,491.5) rotate(180)"><rect x="-18.5" y="-18.5" width="37" height="18.5" class="kw"/><line x1="-14.1" y1="-18.5" x2="-14.1" y2="0" class="k"/><line x1="14.1" y1="-18.5" x2="14.1" y2="0" class="k"/><rect x="-14.5" y="-22.3" width="29" height="5.3" class="kw"/></g>
<g transform="translate(662.5,422.5) rotate(0)"><rect x="-18.5" y="-18.5" width="37" height="18.5" class="kw"/><line x1="-14.1" y1="-18.5" x2="-14.1" y2="0" class="k"/><line x1="14.1" y1="-18.5" x2="14.1" y2="0" class="k"/><rect x="-14.5" y="-22.3" width="29" height="5.3" class="kw"/></g>
<g transform="translate(662.5,491.5) rotate(180)"><rect x="-18.5" y="-18.5" width="37" height="18.5" class="kw"/><line x1="-14.1" y1="-18.5" x2="-14.1" y2="0" class="k"/><line x1="14.1" y1="-18.5" x2="14.1" y2="0" class="k"/><rect x="-14.5" y="-22.3" width="29" height="5.3" class="kw"/></g>
<g transform="translate(709.7,422.5) rotate(0)"><rect x="-18.5" y="-18.5" width="37" height="18.5" class="kw"/><line x1="-14.1" y1="-18.5" x2="-14.1" y2="0" class="k"/><line x1="14.1" y1="-18.5" x2="14.1" y2="0" class="k"/><rect x="-14.5" y="-22.3" width="29" height="5.3" class="kw"/></g>
<g transform="translate(709.7,491.5) rotate(180)"><rect x="-18.5" y="-18.5" width="37" height="18.5" class="kw"/><line x1="-14.1" y1="-18.5" x2="-14.1" y2="0" class="k"/><line x1="14.1" y1="-18.5" x2="14.1" y2="0" class="k"/><rect x="-14.5" y="-22.3" width="29" height="5.3" class="kw"/></g>
<g transform="translate(587.6,457) rotate(-90)"><rect x="-22.9" y="-23" width="45.7" height="23" class="kw"/><line x1="-16.7" y1="-23" x2="-16.7" y2="0" class="k"/><line x1="16.7" y1="-23" x2="16.7" y2="0" class="k"/><rect x="-18.3" y="-26.8" width="36.6" height="5.3" class="kw"/></g>
<g transform="translate(737.7,457) rotate(90)"><rect x="-22.9" y="-23" width="45.7" height="23" class="kw"/><line x1="-16.7" y1="-23" x2="-16.7" y2="0" class="k"/><line x1="16.7" y1="-23" x2="16.7" y2="0" class="k"/><rect x="-18.3" y="-26.8" width="36.6" height="5.3" class="kw"/></g>
<rect x="587.6" y="422.5" width="150.1" height="69" class="kw" style="stroke-width:1.8"/>
<g transform="translate(959.6,431) rotate(0)"><rect x="-22.9" y="-23" width="45.7" height="23" class="kw"/><line x1="-16.7" y1="-23" x2="-16.7" y2="0" class="k"/><line x1="16.7" y1="-23" x2="16.7" y2="0" class="k"/><rect x="-18.3" y="-26.8" width="36.6" height="5.3" class="kw"/></g>
<g transform="translate(959.6,532.8) rotate(180)"><rect x="-22.9" y="-23" width="45.7" height="23" class="kw"/><line x1="-16.7" y1="-23" x2="-16.7" y2="0" class="k"/><line x1="16.7" y1="-23" x2="16.7" y2="0" class="k"/><rect x="-18.3" y="-26.8" width="36.6" height="5.3" class="kw"/></g>
<g transform="translate(926,457.8) rotate(-90)"><rect x="-18.5" y="-18.5" width="37" height="18.5" class="kw"/><line x1="-14.1" y1="-18.5" x2="-14.1" y2="0" class="k"/><line x1="14.1" y1="-18.5" x2="14.1" y2="0" class="k"/><rect x="-14.5" y="-22.3" width="29" height="5.3" class="kw"/></g>
<g transform="translate(994.3,457.8) rotate(90)"><rect x="-18.5" y="-18.5" width="37" height="18.5" class="kw"/><line x1="-14.1" y1="-18.5" x2="-14.1" y2="0" class="k"/><line x1="14.1" y1="-18.5" x2="14.1" y2="0" class="k"/><rect x="-14.5" y="-22.3" width="29" height="5.3" class="kw"/></g>
<g transform="translate(926,505) rotate(-90)"><rect x="-18.5" y="-18.5" width="37" height="18.5" class="kw"/><line x1="-14.1" y1="-18.5" x2="-14.1" y2="0" class="k"/><line x1="14.1" y1="-18.5" x2="14.1" y2="0" class="k"/><rect x="-14.5" y="-22.3" width="29" height="5.3" class="kw"/></g>
<g transform="translate(994.3,505) rotate(90)"><rect x="-18.5" y="-18.5" width="37" height="18.5" class="kw"/><line x1="-14.1" y1="-18.5" x2="-14.1" y2="0" class="k"/><line x1="14.1" y1="-18.5" x2="14.1" y2="0" class="k"/><rect x="-14.5" y="-22.3" width="29" height="5.3" class="kw"/></g>
<rect x="926.1" y="431" width="68.2" height="101.8" class="kw" style="stroke-width:1.7"/>
<g transform="translate(798.7,1116) rotate(0)"><rect x="-22.9" y="-23" width="45.7" height="23" class="kw"/><line x1="-16.7" y1="-23" x2="-16.7" y2="0" class="k"/><line x1="16.7" y1="-23" x2="16.7" y2="0" class="k"/><rect x="-18.3" y="-26.8" width="36.6" height="5.3" class="kw"/></g>
<g transform="translate(798.7,1264) rotate(180)"><rect x="-22.9" y="-23" width="45.7" height="23" class="kw"/><line x1="-16.7" y1="-23" x2="-16.7" y2="0" class="k"/><line x1="16.7" y1="-23" x2="16.7" y2="0" class="k"/><rect x="-18.3" y="-26.8" width="36.6" height="5.3" class="kw"/></g>
<g transform="translate(764.5,1142.5) rotate(-90)"><rect x="-18.5" y="-18.5" width="37" height="18.5" class="kw"/><line x1="-14.1" y1="-18.5" x2="-14.1" y2="0" class="k"/><line x1="14.1" y1="-18.5" x2="14.1" y2="0" class="k"/><rect x="-14.5" y="-22.3" width="29" height="5.3" class="kw"/></g>
<g transform="translate(833,1142.5) rotate(90)"><rect x="-18.5" y="-18.5" width="37" height="18.5" class="kw"/><line x1="-14.1" y1="-18.5" x2="-14.1" y2="0" class="k"/><line x1="14.1" y1="-18.5" x2="14.1" y2="0" class="k"/><rect x="-14.5" y="-22.3" width="29" height="5.3" class="kw"/></g>
<g transform="translate(764.5,1192) rotate(-90)"><rect x="-18.5" y="-18.5" width="37" height="18.5" class="kw"/><line x1="-14.1" y1="-18.5" x2="-14.1" y2="0" class="k"/><line x1="14.1" y1="-18.5" x2="14.1" y2="0" class="k"/><rect x="-14.5" y="-22.3" width="29" height="5.3" class="kw"/></g>
<g transform="translate(833,1192) rotate(90)"><rect x="-18.5" y="-18.5" width="37" height="18.5" class="kw"/><line x1="-14.1" y1="-18.5" x2="-14.1" y2="0" class="k"/><line x1="14.1" y1="-18.5" x2="14.1" y2="0" class="k"/><rect x="-14.5" y="-22.3" width="29" height="5.3" class="kw"/></g>
<g transform="translate(764.5,1240) rotate(-90)"><rect x="-18.5" y="-18.5" width="37" height="18.5" class="kw"/><line x1="-14.1" y1="-18.5" x2="-14.1" y2="0" class="k"/><line x1="14.1" y1="-18.5" x2="14.1" y2="0" class="k"/><rect x="-14.5" y="-22.3" width="29" height="5.3" class="kw"/></g>
<g transform="translate(833,1240) rotate(90)"><rect x="-18.5" y="-18.5" width="37" height="18.5" class="kw"/><line x1="-14.1" y1="-18.5" x2="-14.1" y2="0" class="k"/><line x1="14.1" y1="-18.5" x2="14.1" y2="0" class="k"/><rect x="-14.5" y="-22.3" width="29" height="5.3" class="kw"/></g>
<rect x="764.5" y="1116" width="68.5" height="148" class="kw" style="stroke-width:1.7"/>
<g transform="translate(1369,376) scale(-1,1)"><line x1="-3.5" y1="0" x2="145.5" y2="0" class="k"/><line x1="-3.5" y1="102" x2="145.5" y2="102" class="k"/><line x1="142" y1="-3.5" x2="142" y2="105.5" class="k"/><line x1="0" y1="0" x2="0" y2="102" class="k"/><path d="M34,-2 Q31,-4 31,2 V100 Q31,106 34,104 Q38,106 40,103 Q44,106 47,103 Q52,106 55,102 V0 Q52,-4 47,-1 Q44,-4 40,-1 Q38,-4 34,-2 Z" class="kw"/><path d="M36,0 V102 M40,-1 V103 M47,-1 V103" class="t"/><path d="M142,0.5 H58 Q51,0.5 51,8 V94 Q51,101.5 58,101.5 H142" class="kw"/><path d="M3.5,7.7 L18.2,4.2 C31.1,1.7 42,13.3 42,26.9 C42,40.4 31.1,52 18.2,49.5 L3.5,46 Z" class="k" style="stroke-width:1.9;fill:#fff"/><path d="M20.7,6.7 V47 M4.5,9.7 L20.7,23.9 M4.5,44 L20.7,29.9 M10.5,5.7 L16.5,17.9 M10.5,48 L16.5,35.9 M20.7,24.9 L35.5,12.7 M20.7,28.9 L35.5,41 M22.7,8.7 L28.7,18.9 M22.7,45 L28.7,34.9" class="k" style="stroke-width:1.9"/><path d="M4.5,18.6 h11 M18.7,24.4 h13" class="k" style="stroke-width:2.6"/><path d="M11.5,6.7 l8,3 l-3,5 z M26.7,39 l8,-5 l-1,7 z" class="k" style="fill:#111"/><path d="M3.5,56 L18.2,52.5 C31.1,50 42,61.6 42,75.2 C42,88.7 31.1,100.3 18.2,97.8 L3.5,94.3 Z" class="k" style="stroke-width:1.9;fill:#fff"/><path d="M20.7,55 V95.3 M4.5,58 L20.7,72.2 M4.5,92.3 L20.7,78.2 M10.5,54 L16.5,66.2 M10.5,96.3 L16.5,84.2 M20.7,73.2 L35.5,61 M20.7,77.2 L35.5,89.3 M22.7,57 L28.7,67.2 M22.7,93.3 L28.7,83.2" class="k" style="stroke-width:1.9"/><path d="M4.5,66.9 h11 M18.7,72.7 h13" class="k" style="stroke-width:2.6"/><path d="M11.5,55 l8,3 l-3,5 z M26.7,87.3 l8,-5 l-1,7 z" class="k" style="fill:#111"/></g>
<line x1="1331" y1="334" x2="1331" y2="521" class="t"/>
<line x1="1369.5" y1="334" x2="1369.5" y2="521" class="t"/>
<rect x="1334" y="340" width="32" height="24.5" class="k"/><circle cx="1351" cy="352" r="6" class="k" style="stroke-width:3"/><line x1="1343.5" y1="352" x2="1358.5" y2="352" class="t"/><line x1="1351" y1="344.5" x2="1351" y2="359.5" class="t"/>
<rect x="1334" y="489" width="32" height="25" class="k"/><circle cx="1351" cy="501.5" r="6" class="k" style="stroke-width:3"/><line x1="1343.5" y1="501.5" x2="1358.5" y2="501.5" class="t"/><line x1="1351" y1="494" x2="1351" y2="509" class="t"/>
<line x1="1216.5" y1="558" x2="1324.5" y2="558" class="k"/><line x1="1216.5" y1="590" x2="1324.5" y2="590" class="k"/><line x1="1220" y1="554.5" x2="1220" y2="593.5" class="k"/><line x1="1321" y1="554.5" x2="1321" y2="593.5" class="k"/>
<line x1="1220" y1="561.5" x2="1321" y2="561.5" class="k"/>
<g transform="translate(1216.5,1035.5) rotate(-90)"><line x1="-3.5" y1="0" x2="147" y2="0" class="k"/><line x1="-3.5" y1="104.5" x2="147" y2="104.5" class="k"/><line x1="143.5" y1="-3.5" x2="143.5" y2="108" class="k"/><line x1="0" y1="0" x2="0" y2="104.5" class="k"/><path d="M34,-2 Q31,-4 31,2 V102.5 Q31,108.5 34,106.5 Q38,108.5 40,105.5 Q44,108.5 47,105.5 Q52,108.5 55,104.5 V0 Q52,-4 47,-1 Q44,-4 40,-1 Q38,-4 34,-2 Z" class="kw"/><path d="M36,0 V104.5 M40,-1 V105.5 M47,-1 V105.5" class="t"/><path d="M143.5,0.5 H58 Q51,0.5 51,8 V96.5 Q51,104 58,104 H143.5" class="kw"/><path d="M3.5,9 L18.2,5.5 C31.1,3 42,14.6 42,28.1 C42,41.6 31.1,53.2 18.2,50.8 L3.5,47.2 Z" class="k" style="stroke-width:1.9;fill:#fff"/><path d="M20.7,8 V48.2 M4.5,11 L20.7,25.1 M4.5,45.2 L20.7,31.1 M10.5,7 L16.5,19.1 M10.5,49.2 L16.5,37.1 M20.7,26.1 L35.5,14 M20.7,30.1 L35.5,42.2 M22.7,10 L28.7,20.1 M22.7,46.2 L28.7,36.1" class="k" style="stroke-width:1.9"/><path d="M4.5,19.9 h11 M18.7,25.7 h13" class="k" style="stroke-width:2.6"/><path d="M11.5,8 l8,3 l-3,5 z M26.7,40.2 l8,-5 l-1,7 z" class="k" style="fill:#111"/><path d="M3.5,57.2 L18.2,53.8 C31.1,51.2 42,62.9 42,76.4 C42,89.9 31.1,101.5 18.2,99 L3.5,95.5 Z" class="k" style="stroke-width:1.9;fill:#fff"/><path d="M20.7,56.2 V96.5 M4.5,59.2 L20.7,73.4 M4.5,93.5 L20.7,79.4 M10.5,55.2 L16.5,67.4 M10.5,97.5 L16.5,85.4 M20.7,74.4 L35.5,62.2 M20.7,78.4 L35.5,90.5 M22.7,58.2 L28.7,68.4 M22.7,94.5 L28.7,84.4" class="k" style="stroke-width:1.9"/><path d="M4.5,68.2 h11 M18.7,74 h13" class="k" style="stroke-width:2.6"/><path d="M11.5,56.2 l8,3 l-3,5 z M26.7,88.5 l8,-5 l-1,7 z" class="k" style="fill:#111"/></g>
<line x1="1175" y1="996" x2="1362.5" y2="996" class="t"/>
<line x1="1175" y1="1033" x2="1362.5" y2="1033" class="t"/>
<rect x="1181.7" y="998" width="25" height="33.5" class="k"/><circle cx="1194" cy="1014.6" r="6" class="k" style="stroke-width:3"/><line x1="1186.5" y1="1014.6" x2="1201.5" y2="1014.6" class="t"/><line x1="1194" y1="1007.1" x2="1194" y2="1022.1" class="t"/>
<rect x="1331.5" y="998" width="25" height="33.5" class="k"/><circle cx="1344" cy="1014.6" r="6" class="k" style="stroke-width:3"/><line x1="1336.5" y1="1014.6" x2="1351.5" y2="1014.6" class="t"/><line x1="1344" y1="1007.1" x2="1344" y2="1022.1" class="t"/>
<line x1="1216" y1="773" x2="1326.2" y2="773" class="k"/><line x1="1216" y1="809" x2="1326.2" y2="809" class="k"/><line x1="1219.5" y1="769.5" x2="1219.5" y2="812.5" class="k"/><line x1="1322.7" y1="769.5" x2="1322.7" y2="812.5" class="k"/>
<line x1="1219.5" y1="805.5" x2="1322.7" y2="805.5" class="k"/>
<g transform="translate(189.2,813.7)"><rect x="0" y="0" width="32" height="123.7" fill="url(#st)"/><line x1="-3.5" y1="0" x2="146.7" y2="0" class="k"/><line x1="-3.5" y1="123.7" x2="146.7" y2="123.7" class="k"/><line x1="143.2" y1="-3.5" x2="143.2" y2="127.2" class="k"/><line x1="0" y1="0" x2="0" y2="123.7" class="k"/><path d="M34,-2 Q31,-4 31,2 V121.7 Q31,127.7 34,125.7 Q38,127.7 40,124.7 Q44,127.7 47,124.7 Q52,127.7 55,123.7 V0 Q52,-4 47,-1 Q44,-4 40,-1 Q38,-4 34,-2 Z" class="kw"/><path d="M36,0 V123.7 M40,-1 V124.7 M47,-1 V124.7" class="t"/><path d="M143.2,0.5 H58 Q51,0.5 51,8 V115.7 Q51,123.2 58,123.2 H143.2" class="kw"/><path d="M3.5,18.6 L18.2,15.1 C31.1,12.6 42,24.2 42,37.7 C42,51.2 31.1,62.9 18.2,60.4 L3.5,56.9 Z" class="k" style="stroke-width:1.9;fill:#fff"/><path d="M20.7,17.6 V57.9 M4.5,20.6 L20.7,34.7 M4.5,54.9 L20.7,40.7 M10.5,16.6 L16.5,28.7 M10.5,58.9 L16.5,46.7 M20.7,35.7 L35.5,23.6 M20.7,39.7 L35.5,51.9 M22.7,19.6 L28.7,29.7 M22.7,55.9 L28.7,45.7" class="k" style="stroke-width:1.9"/><path d="M4.5,29.5 h11 M18.7,35.3 h13" class="k" style="stroke-width:2.6"/><path d="M11.5,17.6 l8,3 l-3,5 z M26.7,49.9 l8,-5 l-1,7 z" class="k" style="fill:#111"/><path d="M3.5,66.8 L18.2,63.4 C31.1,60.9 42,72.5 42,86 C42,99.5 31.1,111.2 18.2,108.7 L3.5,105.2 Z" class="k" style="stroke-width:1.9;fill:#fff"/><path d="M20.7,65.8 V106.2 M4.5,68.8 L20.7,83 M4.5,103.2 L20.7,89 M10.5,64.8 L16.5,77 M10.5,107.2 L16.5,95 M20.7,84 L35.5,71.8 M20.7,88 L35.5,100.2 M22.7,67.8 L28.7,78 M22.7,104.2 L28.7,94" class="k" style="stroke-width:1.9"/><path d="M4.5,77.8 h11 M18.7,83.6 h13" class="k" style="stroke-width:2.6"/><path d="M11.5,65.8 l8,3 l-3,5 z M26.7,98.2 l8,-5 l-1,7 z" class="k" style="fill:#111"/></g>
<line x1="186.1" y1="743" x2="233.9" y2="743" class="k"/><line x1="186.1" y1="804" x2="233.9" y2="804" class="k"/><line x1="189.6" y1="739.5" x2="189.6" y2="807.5" class="k"/><line x1="230.4" y1="739.5" x2="230.4" y2="807.5" class="k"/><rect x="192.4" y="745.8" width="35.2" height="55.4" class="k"/><circle cx="209.8" cy="773.9" r="6" class="k" style="stroke-width:3"/><line x1="202.3" y1="773.9" x2="217.3" y2="773.9" class="t"/><line x1="209.8" y1="766.4" x2="209.8" y2="781.4" class="t"/>
<line x1="186.1" y1="947" x2="233.9" y2="947" class="k"/><line x1="186.1" y1="1008" x2="233.9" y2="1008" class="k"/><line x1="189.6" y1="943.5" x2="189.6" y2="1011.5" class="k"/><line x1="230.4" y1="943.5" x2="230.4" y2="1011.5" class="k"/><rect x="192.4" y="949.8" width="35.2" height="55.4" class="k"/><circle cx="209.8" cy="977.5" r="6" class="k" style="stroke-width:3"/><line x1="202.3" y1="977.5" x2="217.3" y2="977.5" class="t"/><line x1="209.8" y1="970" x2="209.8" y2="985" class="t"/>
<line x1="336.9" y1="824.3" x2="364.7" y2="824.3" class="k"/><line x1="336.9" y1="927.2" x2="364.7" y2="927.2" class="k"/><line x1="340.7" y1="820.5" x2="340.7" y2="931" class="k"/><line x1="360.9" y1="820.5" x2="360.9" y2="931" class="k"/>
<line x1="425.4" y1="824.3" x2="469" y2="824.3" class="k"/><line x1="425.4" y1="927.2" x2="469" y2="927.2" class="k"/><line x1="429.2" y1="820.5" x2="429.2" y2="931" class="k"/><line x1="465.2" y1="820.5" x2="465.2" y2="931" class="k"/>
<line x1="432.5" y1="820.5" x2="432.5" y2="931" class="k"/>
<circle cx="380.9" cy="736.5" r="19.4" class="k" style="stroke-width:3.6"/><circle cx="380.9" cy="736.5" r="6.2" class="k" style="stroke-width:3"/><line x1="377.4" y1="733" x2="384.4" y2="740" class="k"/><line x1="377.4" y1="740" x2="384.4" y2="733" class="k"/>
<g transform="translate(429.4,769.9) rotate(45)"><path d="M-31.5,24.4 V0 A31.5,31.5 0 0 1 31.5,0 V24.4 H26.5 V0 A26.5,26.5 0 0 0 -26.5,0 V24.4 Z" class="kw" style="stroke-width:1.5"/><path d="M-25.0,23.4 V0 A25.0,25.0 0 0 1 25.0,0 V23.4" class="t"/><path d="M-26.5,22.4 Q-24.5,35.4 0,36.4 Q24.5,35.4 26.5,22.4" class="k"/><ellipse cx="0" cy="-6.1" rx="21.3" ry="14.2" class="kw" style="stroke-width:1.7"/><path d="M3,-8.1 L17.3,-13.2 M3,-8.1 L10.2,-18.3 M3,-8.1 L-2,-19.3 M-4.1,-6.1 h13.2 M3,-13.2 v10.2 M12.2,-1 l6.1,-5.1" class="k" style="stroke-width:1.8"/><path d="M-14.2,-12.2 l4.1,7.1 l-6.1,-1 z" class="k" style="fill:#111"/></g>
<g transform="translate(190,1297)"><line x1="-3.5" y1="0" x2="145.5" y2="0" class="k"/><line x1="-3.5" y1="102" x2="145.5" y2="102" class="k"/><line x1="142" y1="-3.5" x2="142" y2="105.5" class="k"/><line x1="0" y1="0" x2="0" y2="102" class="k"/><path d="M34,-2 Q31,-4 31,2 V100 Q31,106 34,104 Q38,106 40,103 Q44,106 47,103 Q52,106 55,102 V0 Q52,-4 47,-1 Q44,-4 40,-1 Q38,-4 34,-2 Z" class="kw"/><path d="M36,0 V102 M40,-1 V103 M47,-1 V103" class="t"/><path d="M142,0.5 H58 Q51,0.5 51,8 V94 Q51,101.5 58,101.5 H142" class="kw"/><path d="M3.5,7.7 L18.2,4.2 C31.1,1.7 42,13.3 42,26.9 C42,40.4 31.1,52 18.2,49.5 L3.5,46 Z" class="k" style="stroke-width:1.9;fill:#fff"/><path d="M20.7,6.7 V47 M4.5,9.7 L20.7,23.9 M4.5,44 L20.7,29.9 M10.5,5.7 L16.5,17.9 M10.5,48 L16.5,35.9 M20.7,24.9 L35.5,12.7 M20.7,28.9 L35.5,41 M22.7,8.7 L28.7,18.9 M22.7,45 L28.7,34.9" class="k" style="stroke-width:1.9"/><path d="M4.5,18.6 h11 M18.7,24.4 h13" class="k" style="stroke-width:2.6"/><path d="M11.5,6.7 l8,3 l-3,5 z M26.7,39 l8,-5 l-1,7 z" class="k" style="fill:#111"/><path d="M3.5,56 L18.2,52.5 C31.1,50 42,61.6 42,75.2 C42,88.7 31.1,100.3 18.2,97.8 L3.5,94.3 Z" class="k" style="stroke-width:1.9;fill:#fff"/><path d="M20.7,55 V95.3 M4.5,58 L20.7,72.2 M4.5,92.3 L20.7,78.2 M10.5,54 L16.5,66.2 M10.5,96.3 L16.5,84.2 M20.7,73.2 L35.5,61 M20.7,77.2 L35.5,89.3 M22.7,57 L28.7,67.2 M22.7,93.3 L28.7,83.2" class="k" style="stroke-width:1.9"/><path d="M4.5,66.9 h11 M18.7,72.7 h13" class="k" style="stroke-width:2.6"/><path d="M11.5,55 l8,3 l-3,5 z M26.7,87.3 l8,-5 l-1,7 z" class="k" style="fill:#111"/></g>
<line x1="190" y1="1252.5" x2="190" y2="1442.5" class="t"/>
<line x1="227.5" y1="1252.5" x2="227.5" y2="1442.5" class="t"/>
<rect x="193" y="1260" width="32.5" height="24.5" class="k"/><circle cx="209" cy="1272" r="6" class="k" style="stroke-width:3"/><line x1="201.5" y1="1272" x2="216.5" y2="1272" class="t"/><line x1="209" y1="1264.5" x2="209" y2="1279.5" class="t"/>
<rect x="193" y="1410" width="32.5" height="25" class="k"/><circle cx="209" cy="1422" r="6" class="k" style="stroke-width:3"/><line x1="201.5" y1="1422" x2="216.5" y2="1422" class="t"/><line x1="209" y1="1414.5" x2="209" y2="1429.5" class="t"/>
<line x1="354" y1="1166" x2="399.5" y2="1166" class="k"/><line x1="354" y1="1227.5" x2="399.5" y2="1227.5" class="k"/><line x1="357.5" y1="1162.5" x2="357.5" y2="1231" class="k"/><line x1="396" y1="1162.5" x2="396" y2="1231" class="k"/>
<line x1="361" y1="1162.5" x2="361" y2="1231" class="k"/>
<g class="thin"><g transform="translate(217,1194) rotate(-45)"><path d="M-27.8,21.4 V0 A27.8,27.8 0 0 1 27.8,0 V21.4 H22.8 V0 A22.8,22.8 0 0 0 -22.8,0 V21.4 Z" class="kw" style="stroke-width:1.5"/><path d="M-21.3,20.4 V0 A21.3,21.3 0 0 1 21.3,0 V20.4" class="t"/><path d="M-22.8,19.4 Q-20.8,32.4 0,33.4 Q20.8,32.4 22.8,19.4" class="k"/><ellipse cx="0" cy="-5.4" rx="18.8" ry="12.6" class="kw" style="stroke-width:1.7"/><path d="M2.7,-7.2 L15.2,-11.7 M2.7,-7.2 L9,-16.1 M2.7,-7.2 L-1.8,-17 M-3.6,-5.4 h11.7 M2.7,-11.7 v9 M10.8,-0.9 l5.4,-4.5" class="k" style="stroke-width:1.8"/><path d="M-12.6,-10.8 l3.6,6.3 l-5.4,-0.9 z" class="k" style="fill:#111"/></g></g>
<path d="M246.9,1195 L282.1,1229 M282.2,1224.9 L247.1,1258.7 M251.4,1258.8 L218.7,1224.4 M218.7,1228.8 L251,1195" class="t"/>
<line x1="412.8" y1="1157.1" x2="495.3" y2="1157.1" class="k"/><line x1="412.8" y1="1182.7" x2="495.3" y2="1182.7" class="k"/><line x1="417.8" y1="1152.1" x2="417.8" y2="1187.7" class="k"/><line x1="490.3" y1="1152.1" x2="490.3" y2="1187.7" class="k"/>
<rect x="417.8" y="1157.1" width="72.5" height="25.6" class="k" style="stroke-width:3"/>
<circle cx="432" cy="1170.2" r="6" class="k" style="stroke-width:3"/><line x1="424.5" y1="1170.2" x2="439.5" y2="1170.2" class="t"/><line x1="432" y1="1162.7" x2="432" y2="1177.7" class="t"/>
<line x1="520.5" y1="1144" x2="557.5" y2="1144" class="k"/><line x1="520.5" y1="1240" x2="557.5" y2="1240" class="k"/><line x1="524" y1="1140.5" x2="524" y2="1243.5" class="k"/><line x1="554" y1="1140.5" x2="554" y2="1243.5" class="k"/>
<rect x="527" y="1147" width="24" height="90" class="k"/>
<circle cx="538" cy="1158" r="6" class="k" style="stroke-width:3"/><line x1="530.5" y1="1158" x2="545.5" y2="1158" class="t"/><line x1="538" y1="1150.5" x2="538" y2="1165.5" class="t"/>
<circle cx="538" cy="1225.5" r="6" class="k" style="stroke-width:3"/><line x1="530.5" y1="1225.5" x2="545.5" y2="1225.5" class="t"/><line x1="538" y1="1218" x2="538" y2="1233" class="t"/>
<circle cx="1101" cy="734" r="19.5" class="k" style="stroke-width:3.6"/><circle cx="1101" cy="734" r="6.2" class="k" style="stroke-width:3"/><line x1="1097.5" y1="730.5" x2="1104.5" y2="737.5" class="k"/><line x1="1097.5" y1="737.5" x2="1104.5" y2="730.5" class="k"/>
<g class="med">
<line x1="484" y1="771" x2="527.5" y2="771" class="k"/><line x1="484" y1="874" x2="527.5" y2="874" class="k"/><line x1="487.5" y1="767.5" x2="487.5" y2="877.5" class="k"/><line x1="524" y1="767.5" x2="524" y2="877.5" class="k"/>
<line x1="520.5" y1="767.5" x2="520.5" y2="877.5" class="k"/>
<line x1="616" y1="792.5" x2="663.5" y2="792.5" class="k"/><line x1="616" y1="852.5" x2="663.5" y2="852.5" class="k"/><line x1="619.5" y1="789" x2="619.5" y2="856" class="k"/><line x1="660" y1="789" x2="660" y2="856" class="k"/>
<rect x="622.3" y="795.3" width="34.9" height="54.4" class="k"/>
<g class="med"><g transform="translate(763.4,752.3) scale(-1,1)"><path d="M0,0 H62 V9 H8.4 V132 H62 V141 H0 Z" class="kw"/><path d="M61,11.7 H11.9 V129.3 H61" class="k"/><path d="M57,11.7 Q65,31.3 57,50.9" class="t"/><path d="M15,14.7 Q28,12.7 34,19.7 Q39,31.3 34,42.9 Q28,49.9 15,47.9 Z" class="t"/><path d="M15,31.3 h8 M20,28.3 l3,3 l-3,3 M17,17.7 L22,27.3 M17,44.9 L22,35.3 M24,45.9 l5,-7 M26,46.9 l5,-6" class="k"/><path d="M57,50.9 Q65,70.5 57,90.1" class="t"/><line x1="11.9" y1="50.9" x2="57" y2="50.9" class="k" style="stroke-width:1.8"/><path d="M15,53.9 Q28,51.9 34,58.9 Q39,70.5 34,82.1 Q28,89.1 15,87.1 Z" class="t"/><path d="M15,70.5 h8 M20,67.5 l3,3 l-3,3 M17,56.9 L22,66.5 M17,84.1 L22,74.5 M24,85.1 l5,-7 M26,86.1 l5,-6" class="k"/><path d="M57,90.1 Q65,109.7 57,129.3" class="t"/><line x1="11.9" y1="90.1" x2="57" y2="90.1" class="k" style="stroke-width:1.8"/><path d="M15,93.1 Q28,91.1 34,98.1 Q39,109.7 34,121.3 Q28,128.3 15,126.3 Z" class="t"/><path d="M15,109.7 h8 M20,106.7 l3,3 l-3,3 M17,96.1 L22,105.7 M17,123.3 L22,113.7 M24,124.3 l5,-7 M26,125.3 l5,-6" class="k"/><g transform="translate(33,20.2) rotate(-25)"><rect x="-7" y="-5.5" width="14" height="11" rx="3.5" class="tw"/><path d="M-7,-2 Q0,1 7,-2 M-2,-5 v10 M2,-5 v10" class="t"/></g><g transform="translate(33,120.8) rotate(25)"><rect x="-7" y="-5.5" width="14" height="11" rx="3.5" class="tw"/><path d="M-7,-2 Q0,1 7,-2 M-2,-5 v10 M2,-5 v10" class="t"/></g></g></g>
<line x1="766.5" y1="771" x2="792.5" y2="771" class="k"/><line x1="766.5" y1="874" x2="792.5" y2="874" class="k"/><line x1="770" y1="767.5" x2="770" y2="877.5" class="k"/><line x1="789" y1="767.5" x2="789" y2="877.5" class="k"/>
<line x1="773" y1="767.5" x2="773" y2="877.5" class="k"/>
<circle cx="779" cy="789" r="6" class="k" style="stroke-width:3"/><line x1="771.5" y1="789" x2="786.5" y2="789" class="t"/><line x1="779" y1="781.5" x2="779" y2="796.5" class="t"/>
<circle cx="779" cy="857" r="6" class="k" style="stroke-width:3"/><line x1="771.5" y1="857" x2="786.5" y2="857" class="t"/><line x1="779" y1="849.5" x2="779" y2="864.5" class="t"/>
<line x1="708.4" y1="696.3" x2="756.1" y2="696.3" class="k"/><line x1="708.4" y1="736.3" x2="756.1" y2="736.3" class="k"/><line x1="711.9" y1="692.8" x2="711.9" y2="739.8" class="k"/><line x1="752.6" y1="692.8" x2="752.6" y2="739.8" class="k"/>
<rect x="714.4" y="698.4" width="36.5" height="35.2" class="k"/>
<circle cx="732.4" cy="716.3" r="6.4" class="k" style="stroke-width:1.2;stroke:#333"/><circle cx="732.4" cy="716.3" r="4.8" class="k" style="stroke-width:1.1;stroke:#444"/><line x1="723.9" y1="716.3" x2="740.9" y2="716.3" class="t"/><line x1="732.4" y1="707.8" x2="732.4" y2="724.8" class="t"/>
<line x1="708.2" y1="908.9" x2="756.5" y2="908.9" class="k"/><line x1="708.2" y1="949.4" x2="756.5" y2="949.4" class="k"/><line x1="711.7" y1="905.4" x2="711.7" y2="952.9" class="k"/><line x1="753" y1="905.4" x2="753" y2="952.9" class="k"/>
<rect x="714.5" y="911.8" width="36" height="35.7" class="k"/>
<circle cx="732.5" cy="929.4" r="6.4" class="k" style="stroke-width:1.2;stroke:#333"/><circle cx="732.5" cy="929.4" r="4.8" class="k" style="stroke-width:1.1;stroke:#444"/><line x1="724" y1="929.4" x2="741" y2="929.4" class="t"/><line x1="732.5" y1="920.9" x2="732.5" y2="937.9" class="t"/>
<g class="med"><g transform="translate(585.4,949.4) rotate(-90)"><path d="M0,0 H62 V9 H8.4 V100.4 H62 V109.4 H0 Z" class="kw"/><path d="M61,11.7 H11.9 V97.7 H61" class="k"/><path d="M57,11.7 Q65,33.2 57,54.7" class="t"/><path d="M15,14.7 Q28,12.7 34,19.7 Q39,33.2 34,46.7 Q28,53.7 15,51.7 Z" class="t"/><path d="M15,33.2 h8 M20,30.2 l3,3 l-3,3 M17,17.7 L22,29.2 M17,48.7 L22,37.2 M24,49.7 l5,-7 M26,50.7 l5,-6" class="k"/><path d="M57,54.7 Q65,76.2 57,97.7" class="t"/><line x1="11.9" y1="54.7" x2="57" y2="54.7" class="k" style="stroke-width:1.8"/><path d="M15,57.7 Q28,55.7 34,62.7 Q39,76.2 34,89.7 Q28,96.7 15,94.7 Z" class="t"/><path d="M15,76.2 h8 M20,73.2 l3,3 l-3,3 M17,60.7 L22,72.2 M17,91.7 L22,80.2 M24,92.7 l5,-7 M26,93.7 l5,-6" class="k"/></g></g>
<g class="thin"><g transform="translate(672.2,701.9) rotate(45)"><path d="M-27.9,21 V0 A27.9,27.9 0 0 1 27.9,0 V21 H22.9 V0 A22.9,22.9 0 0 0 -22.9,0 V21 Z" class="kw" style="stroke-width:1.5"/><path d="M-21.4,20 V0 A21.4,21.4 0 0 1 21.4,0 V20" class="t"/><path d="M-22.9,19 Q-20.9,32 0,33 Q20.9,32 22.9,19" class="k"/><ellipse cx="0" cy="-5.4" rx="18.9" ry="12.6" class="kw" style="stroke-width:1.7"/><path d="M2.7,-7.2 L15.3,-11.7 M2.7,-7.2 L9,-16.2 M2.7,-7.2 L-1.8,-17.1 M-3.6,-5.4 h11.7 M2.7,-11.7 v9 M10.8,-0.9 l5.4,-4.5" class="k" style="stroke-width:1.8"/><path d="M-12.6,-10.8 l3.6,6.3 l-5.4,-0.9 z" class="k" style="fill:#111"/></g></g>
<path d="M634.9,703.4 L669.8,740.4 M639.8,703.6 L606.5,736.8 M606.6,731.6 L642,767 M636.5,767.6 L669.8,732.2" class="t"/>
</g>
</g>
<g id="cars">
<g transform="translate(970,1530) scale(0.2309)"><path d="M190,68 L183,50 H100 Q62,52 62,92 V598 Q62,638 100,640 H183 L190,618" class="kw" vector-effect="non-scaling-stroke"/><path d="M1395,68 L1402,52 H1458 Q1485,52 1485,80 V608 Q1485,636 1458,636 H1402 L1395,618" class="kw" vector-effect="non-scaling-stroke"/><path d="M130,68 H1420 Q1445,68 1445,93 V593 Q1445,618 1420,618 H130 Q105,618 105,593 V93 Q105,68 130,68 Z" class="kw" vector-effect="non-scaling-stroke" style="stroke-width:1.7"/><rect x="40" y="185" width="45" height="30" class="kw" vector-effect="non-scaling-stroke"/><rect x="40" y="475" width="45" height="27" class="kw" vector-effect="non-scaling-stroke"/><rect x="1462" y="180" width="38" height="25" class="kw" vector-effect="non-scaling-stroke"/><rect x="1462" y="485" width="38" height="25" class="kw" vector-effect="non-scaling-stroke"/><path d="M92,100 Q84,340 92,585" class="k" vector-effect="non-scaling-stroke"/><path d="M105,122 L505,88 M105,195 H140 L505,100 M105,565 L505,600 M105,490 H140 L505,588" class="k" vector-effect="non-scaling-stroke"/><path d="M505,68 V100 L545,122 L570,110 M505,618 V588 L545,565 L570,575" class="k" vector-effect="non-scaling-stroke"/><path d="M570,110 L660,160 Q612,340 660,520 L570,575 Q478,340 570,110 Z" class=" k" vector-effect="non-scaling-stroke" style="stroke-width:1.6"/><path d="M672,160 Q626,340 672,522 M685,172 Q645,340 688,518" class="k" vector-effect="non-scaling-stroke"/><path d="M605,105 H780 L770,150 H670 Z M800,105 H960 L925,150 H795 Z M605,585 H780 L770,540 H670 Z M800,585 H960 L925,540 H795 Z" class="k" vector-effect="non-scaling-stroke"/><path d="M795,68 L800,103 M998,68 L972,103 M795,618 L800,587 M998,618 L972,587" class="k" vector-effect="non-scaling-stroke"/><path d="M1000,105 H1340 Q1385,105 1385,150 V185 L1310,215 V175 Q1310,152 1290,152 H970 Z" class="k" vector-effect="non-scaling-stroke"/><path d="M1000,585 H1340 Q1385,585 1385,540 V500 L1310,470 V515 Q1310,538 1290,538 H970 Z" class="k" vector-effect="non-scaling-stroke"/><path d="M1310,215 V470 M1385,205 V485 M1310,215 L1385,195 M1310,470 L1385,490" class="k" vector-effect="non-scaling-stroke"/><path d="M1385,195 L1445,175 M1385,490 L1445,510" class="d" vector-effect="non-scaling-stroke"/><path d="M945,165 H1260 M945,522 H1260 M945,165 L890,340 L945,522" class="k" vector-effect="non-scaling-stroke"/></g>
<g transform="translate(965,1700) scale(0.24375)"><path d="M755,95 H100 Q50,95 50,135 V500 Q50,540 100,540 H755 Z" class="kw" vector-effect="non-scaling-stroke" style="stroke-width:1.6"/><path d="M75,100 V535 M92,150 V490 M75,150 H415 M75,490 H415 M70,320 H380" class="k" vector-effect="non-scaling-stroke"/><path d="M520,98 L565,45 V98 Z M520,538 L565,595 V538 Z" class="k" vector-effect="non-scaling-stroke" style="fill:#fff"/><path d="M465,118 L540,150 Q490,320 540,490 L465,520 Q362,320 465,118 Z" class="kw" vector-effect="non-scaling-stroke" style="stroke-width:1.6"/><path d="M528,150 Q480,320 528,490" class="k" vector-effect="non-scaling-stroke"/><path d="M470,100 L555,140 M470,538 L555,500" class="k" vector-effect="non-scaling-stroke"/><path d="M545,150 H715 Q725,150 725,160 V480 Q725,490 715,490 H545" class="k" vector-effect="non-scaling-stroke"/><path d="M520,105 H695 L680,135 H560 Z M520,532 H695 L680,503 H560 Z" class="k" vector-effect="non-scaling-stroke"/><path d="M720,100 L740,150 V490 L720,535" class="k" vector-effect="non-scaling-stroke"/><rect x="738" y="150" width="10" height="335" class="None" vector-effect="non-scaling-stroke" fill="#111"/><path d="M755,95 V540 M765,95 V540" class="k" vector-effect="non-scaling-stroke"/><path d="M765,92 H1490 Q1500,92 1500,102 V535 Q1500,545 1490,545 H765 Z" class="kw" vector-effect="non-scaling-stroke" style="stroke-width:1.6"/><path d="M775,112 H1470 M775,525 H1470 M1470,92 V545" class="k" vector-effect="non-scaling-stroke"/><rect x="775" y="140" width="695" height="358" class="k" vector-effect="non-scaling-stroke"/><rect x="775" y="112" width="14" height="28" class="None" vector-effect="non-scaling-stroke" fill="#111"/><rect x="775" y="498" width="14" height="27" class="None" vector-effect="non-scaling-stroke" fill="#111"/><rect x="1108" y="112" width="14" height="28" class="None" vector-effect="non-scaling-stroke" fill="#111"/><rect x="1108" y="498" width="14" height="27" class="None" vector-effect="non-scaling-stroke" fill="#111"/><rect x="1452" y="112" width="14" height="28" class="None" vector-effect="non-scaling-stroke" fill="#111"/><rect x="1452" y="498" width="14" height="27" class="None" vector-effect="non-scaling-stroke" fill="#111"/><path d="M1035,140 L1060,175 H1215 L1240,140 M1035,498 L1060,462 H1215 L1240,498" class="k" vector-effect="non-scaling-stroke"/></g>
</g>
<g id="under">
<rect x="490.5" y="63" width="344.5" height="245" class="k"/>
<line x1="490.5" y1="308" x2="835" y2="308" class="d"/>
<line x1="490.5" y1="329" x2="835" y2="329" class="d"/>
<line x1="490.5" y1="376.5" x2="835" y2="376.5" class="d"/>
<line x1="490.5" y1="541" x2="835" y2="541" class="d"/>
<line x1="540" y1="329" x2="540" y2="589" class="d"/>
<line x1="621.5" y1="329" x2="621.5" y2="589" class="d"/>
<line x1="703.5" y1="329" x2="703.5" y2="589" class="d"/>
<line x1="785.5" y1="329" x2="785.5" y2="589" class="d"/>
<line x1="481" y1="742.5" x2="846" y2="742.5" class="d"/>
<line x1="481" y1="761.5" x2="846" y2="761.5" class="d"/>
<line x1="481" y1="884.5" x2="846" y2="884.5" class="d"/>
<line x1="481" y1="902.5" x2="846" y2="902.5" class="d"/>
<line x1="846" y1="628" x2="846" y2="1019" class="d"/>
<line x1="865" y1="628" x2="865" y2="1026" class="d"/>
<line x1="865" y1="706" x2="1066" y2="706" class="d"/>
<line x1="865" y1="725.5" x2="1066" y2="725.5" class="d"/>
<line x1="864" y1="813" x2="1066" y2="813" class="d"/>
<line x1="864" y1="832.5" x2="1066" y2="832.5" class="d"/>
<line x1="865" y1="920.5" x2="1066" y2="920.5" class="d"/>
<line x1="865" y1="940" x2="1066" y2="940" class="d"/>
<line x1="934" y1="1026" x2="1025" y2="1026" class="d"/>
<line x1="941" y1="1045.5" x2="1066" y2="1045.5" class="d"/>
<line x1="852.5" y1="364" x2="1066" y2="364" class="k"/>
<line x1="852.5" y1="375" x2="1066" y2="375" class="d"/>
<line x1="873" y1="600" x2="1046" y2="600" class="d"/>
<line x1="873" y1="620" x2="1046" y2="620" class="d"/>
<line x1="535" y1="1019.5" x2="634.5" y2="1019.5" class="dt"/>
<line x1="687.5" y1="1019.5" x2="837.5" y2="1019.5" class="dt"/>
<line x1="535" y1="1054" x2="634.5" y2="1054" class="dt"/>
<line x1="687.5" y1="1054" x2="837.5" y2="1054" class="dt"/>
<rect x="674.5" y="1063" width="76.5" height="81" class="d"/>
<rect x="674.5" y="1152.5" width="76.5" height="81.5" class="d"/>
<rect x="674.5" y="1243" width="76.5" height="79.5" class="d"/>
<rect x="760.5" y="1063" width="77" height="81" class="d"/>
<rect x="760.5" y="1152.5" width="77" height="81.5" class="d"/>
<rect x="760.5" y="1243" width="77" height="79.5" class="d"/>
<rect x="846" y="1063" width="77" height="81" class="d"/>
<rect x="846" y="1152.5" width="77" height="81.5" class="d"/>
<rect x="846" y="1243" width="77" height="79.5" class="d"/>
<line x1="657.5" y1="1091" x2="657.5" y2="1295" class="dt"/>
<line x1="665.5" y1="1091" x2="665.5" y2="1295" class="dt"/>
<line x1="505" y1="1062.5" x2="505" y2="1124" class="dt"/>
<line x1="512" y1="1062.5" x2="512" y2="1124" class="dt"/>
<line x1="505" y1="1261" x2="505" y2="1322.5" class="dt"/>
<line x1="512" y1="1261" x2="512" y2="1322.5" class="dt"/>
<line x1="933" y1="1067.5" x2="933" y2="1129" class="dt"/>
<line x1="940.5" y1="1067.5" x2="940.5" y2="1129" class="dt"/>
<line x1="1066.5" y1="635" x2="1066.5" y2="696" class="dt"/>
<line x1="1075" y1="635" x2="1075" y2="696" class="dt"/>
<line x1="997.5" y1="1218" x2="1059.5" y2="1218" class="dt"/>
<line x1="997.5" y1="1223.5" x2="1059.5" y2="1223.5" class="dt"/>
<line x1="600.5" y1="1344" x2="600.5" y2="1462" class="d"/>
<line x1="682" y1="1344" x2="682" y2="1462" class="d"/>
<line x1="764" y1="1344" x2="764" y2="1462" class="d"/>
<line x1="845" y1="1344" x2="845" y2="1462" class="d"/>
<line x1="523.5" y1="1462.5" x2="924" y2="1462.5" class="d"/>
<polyline points="499,1465 499,1484.5 923,1484.5" class="k"/>
<rect x="521" y="1470.2" width="39.7" height="6.2" class="dt"/>
<rect x="609.3" y="1470.2" width="39.7" height="6.2" class="dt"/>
<rect x="669" y="1470.2" width="39.4" height="6.2" class="dt"/>
<rect x="749.4" y="1470.2" width="39.6" height="6.2" class="dt"/>
<rect x="809" y="1470.2" width="39" height="6.2" class="dt"/>
<rect x="1236" y="1310.5" width="143" height="129" class="dt"/>
<polyline points="937,1500 1080,1500 1080,1873 937,1873" class="dt"/>
<rect x="873" y="996" width="60" height="31.5" class="dt"/>
</g>
<g id="text" style="opacity:0.999">
<text x="618.7" y="110" textLength="86.6" lengthAdjust="spacingAndGlyphs" class="rm">PATIO</text>
<text x="590.1" y="140" textLength="143.3" lengthAdjust="spacingAndGlyphs" class="dm">12'-0&quot; x 16'-10&quot;</text>
<text x="567.7" y="369" textLength="190.6" lengthAdjust="spacingAndGlyphs" class="rm">REAR PORCH</text>
<text x="590.1" y="394.5" textLength="143.3" lengthAdjust="spacingAndGlyphs" class="dm">13'-9&quot; x 16'-10&quot;</text>
<text x="220.7" y="397" textLength="212.6" lengthAdjust="spacingAndGlyphs" class="rm">PRIMARY BATH</text>
<text x="266.1" y="421.5" textLength="120.8" lengthAdjust="spacingAndGlyphs" class="dm">6'-3&quot; x 14'-2&quot;</text>
<text x="206.7" y="634" textLength="75.6" lengthAdjust="spacingAndGlyphs" class="rm">W.I.C.</text>
<text x="370.7" y="634" textLength="77.6" lengthAdjust="spacingAndGlyphs" class="rm">W.I.C.</text>
<text x="874.2" y="353" textLength="169.6" lengthAdjust="spacingAndGlyphs" class="rm">BREAKFAST</text>
<text x="893.6" y="395" textLength="127.3" lengthAdjust="spacingAndGlyphs" class="dm">10'-5&quot; x 13'-5&quot;</text>
<text x="1134.7" y="517" textLength="187.6" lengthAdjust="spacingAndGlyphs" class="rm">BEDROOM #3</text>
<text x="1163.1" y="542" textLength="131.8" lengthAdjust="spacingAndGlyphs" class="dm">12'-5&quot; x 13'-5&quot;</text>
<text x="889.7" y="669" textLength="125.6" lengthAdjust="spacingAndGlyphs" class="rm">KITCHEN</text>
<text x="892.1" y="694.5" textLength="120.8" lengthAdjust="spacingAndGlyphs" class="dm">9'-9&quot; x 20'-5&quot;</text>
<text x="1095.7" y="675" textLength="71.6" lengthAdjust="spacingAndGlyphs" class="rm">HALL</text>
<text x="1115.7" y="714" textLength="33.6" lengthAdjust="spacingAndGlyphs" class="rm">#3</text>
<text x="1226.7" y="671" textLength="117.1" lengthAdjust="spacingAndGlyphs" class="rm">BATH #3</text>
<text x="1225.1" y="692" textLength="120.8" lengthAdjust="spacingAndGlyphs" class="dm">7'-6&quot; x 8'-11&quot;</text>
<text x="1157.2" y="846.5" textLength="186.1" lengthAdjust="spacingAndGlyphs" class="rm">BEDROOM #4</text>
<text x="1184.1" y="874.5" textLength="131.3" lengthAdjust="spacingAndGlyphs" class="dm">12'-5&quot; x 13'-5&quot;</text>
<text x="565.7" y="981" textLength="194.6" lengthAdjust="spacingAndGlyphs" class="rm">GREAT ROOM</text>
<text x="590.1" y="1004" textLength="143.3" lengthAdjust="spacingAndGlyphs" class="dm">18'-10&quot; x 20'-5&quot;</text>
<text x="261.2" y="965" textLength="127.6" lengthAdjust="spacingAndGlyphs" class="rm">PRIMARY</text>
<text x="253.2" y="1000" textLength="148.1" lengthAdjust="spacingAndGlyphs" class="rm">BEDROOM</text>
<text x="261.1" y="1026" textLength="130.8" lengthAdjust="spacingAndGlyphs" class="dm">14'-2&quot; x 16'-6&quot;</text>
<text x="879.1" y="1021" textLength="47.8" lengthAdjust="spacingAndGlyphs" class="dm">PAN.</text>
<text x="417.7" y="1092.5" textLength="71.1" lengthAdjust="spacingAndGlyphs" class="rm">HALL</text>
<text x="438.7" y="1127.5" textLength="31.6" lengthAdjust="spacingAndGlyphs" class="rm">#1</text>
<text x="264.7" y="1124" textLength="115.6" lengthAdjust="spacingAndGlyphs" class="rm">BATH #2</text>
<text x="264.6" y="1144.5" textLength="116.3" lengthAdjust="spacingAndGlyphs" class="dm">5-0&quot; x 10'-8&quot;</text>
<text x="534.2" y="1105" textLength="100.1" lengthAdjust="spacingAndGlyphs" class="rm">FOYER</text>
<text x="519.1" y="1129.5" textLength="131.8" lengthAdjust="spacingAndGlyphs" class="dm">7'-0&quot; x 13'-11&quot;</text>
<text x="671.2" y="1079.5" textLength="100.1" lengthAdjust="spacingAndGlyphs" class="rm">DINING</text>
<text x="679.1" y="1105.5" textLength="70.8" lengthAdjust="spacingAndGlyphs" class="dm">13'-0&quot; x</text>
<text x="683.1" y="1129.5" textLength="63.8" lengthAdjust="spacingAndGlyphs" class="dm">13'-11&quot;</text>
<text x="966.2" y="1107" textLength="129.6" lengthAdjust="spacingAndGlyphs" class="rm">SERVING</text>
<text x="1189.2" y="1081" textLength="106.1" lengthAdjust="spacingAndGlyphs" class="rm">UTILITY</text>
<text x="1183.1" y="1105.5" textLength="121.8" lengthAdjust="spacingAndGlyphs" class="dm">6'-9&quot; x 12'-3&quot;</text>
<text x="206.7" y="1254" textLength="187.1" lengthAdjust="spacingAndGlyphs" class="rm">BEDROOM #2</text>
<text x="234.1" y="1278" textLength="131.8" lengthAdjust="spacingAndGlyphs" class="dm">10'-8&quot; x 14'-2&quot;</text>
<text x="417.7" y="1284.5" textLength="71.1" lengthAdjust="spacingAndGlyphs" class="rm">HALL</text>
<text x="437.7" y="1319" textLength="33.6" lengthAdjust="spacingAndGlyphs" class="rm">#2</text>
<text x="407.7" y="1394.5" textLength="78.6" lengthAdjust="spacingAndGlyphs" class="rm">W.I.C.</text>
<text x="617.7" y="1412" textLength="209.6" lengthAdjust="spacingAndGlyphs" class="rm">FRONT PORCH</text>
<text x="981.7" y="1260" textLength="65.1" lengthAdjust="spacingAndGlyphs" class="rm">MUD</text>
<text x="988.7" y="1294" textLength="50.6" lengthAdjust="spacingAndGlyphs" class="rm">RM.</text>
<text x="983.6" y="1318" textLength="61.3" lengthAdjust="spacingAndGlyphs" class="dm">6'-5&quot; x</text>
<text x="993.1" y="1343" textLength="41.8" lengthAdjust="spacingAndGlyphs" class="dm">8'-0&quot;</text>
<text transform="translate(963.3,1343) rotate(-90)" textLength="74" lengthAdjust="spacingAndGlyphs" style="font-size:21.5px" class="rm">BENCH</text>
<text x="1233.7" y="1272" textLength="96.6" lengthAdjust="spacingAndGlyphs" class="rm">HOBBY</text>
<text x="1230.1" y="1297.5" textLength="106.8" lengthAdjust="spacingAndGlyphs" class="dm">8'-9&quot; x 9'-9&quot;</text>
<text x="1049.7" y="1471" textLength="216.6" lengthAdjust="spacingAndGlyphs" class="rm">2-CAR GARAGE</text>
<text x="1091.6" y="1494.5" textLength="133.3" lengthAdjust="spacingAndGlyphs" class="dm">21'-6&quot; x 24'-5&quot;</text>
<text x="1237.2" y="1992.6" textLength="309" lengthAdjust="spacingAndGlyphs" style="font-family:'DejaVu Sans',sans-serif;font-size:57.5px;fill:#8a8a8a">MAAR/MLS</text>
<text x="1238.2" y="1991.8" textLength="309" lengthAdjust="spacingAndGlyphs" style="font-family:'DejaVu Sans',sans-serif;font-size:57.5px;fill:#c0c0c0">MAAR/MLS</text>
</g>
</svg>
</body></html>
